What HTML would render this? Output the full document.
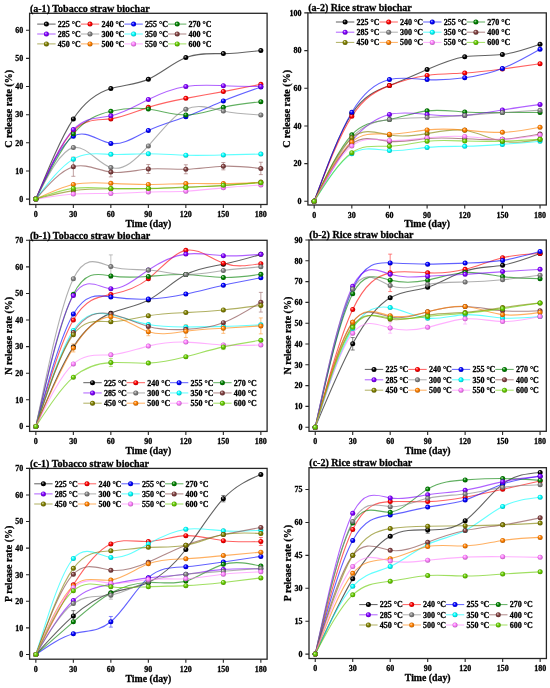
<!DOCTYPE html><html><head><meta charset="utf-8"><style>html,body{margin:0;padding:0;background:#fff;width:550px;height:688px;overflow:hidden}svg{display:block;filter:blur(0.3px)}text{font-family:"Liberation Serif",serif;font-weight:bold;fill:#000;stroke:#000;stroke-width:0.28px}</style></head><body>
<svg width="550" height="688" viewBox="0 0 550 688">
<defs>
<radialGradient id="g225" cx="0.5" cy="0.5" r="0.6" fx="0.35" fy="0.32"><stop offset="0" stop-color="#BFBFBF"/><stop offset="0.45" stop-color="#000000"/><stop offset="1" stop-color="#000000"/></radialGradient>
<radialGradient id="g240" cx="0.5" cy="0.5" r="0.6" fx="0.35" fy="0.32"><stop offset="0" stop-color="#FFBFBF"/><stop offset="0.45" stop-color="#FF0000"/><stop offset="1" stop-color="#A50000"/></radialGradient>
<radialGradient id="g255" cx="0.5" cy="0.5" r="0.6" fx="0.35" fy="0.32"><stop offset="0" stop-color="#BFBFFF"/><stop offset="0.45" stop-color="#0000FF"/><stop offset="1" stop-color="#0000A5"/></radialGradient>
<radialGradient id="g270" cx="0.5" cy="0.5" r="0.6" fx="0.35" fy="0.32"><stop offset="0" stop-color="#BFDFBF"/><stop offset="0.45" stop-color="#008000"/><stop offset="1" stop-color="#005300"/></radialGradient>
<radialGradient id="g285" cx="0.5" cy="0.5" r="0.6" fx="0.35" fy="0.32"><stop offset="0" stop-color="#DFBFFF"/><stop offset="0.45" stop-color="#8000FF"/><stop offset="1" stop-color="#5300A5"/></radialGradient>
<radialGradient id="g300" cx="0.5" cy="0.5" r="0.6" fx="0.35" fy="0.32"><stop offset="0" stop-color="#DFDFDF"/><stop offset="0.45" stop-color="#808080"/><stop offset="1" stop-color="#535353"/></radialGradient>
<radialGradient id="g350" cx="0.5" cy="0.5" r="0.6" fx="0.35" fy="0.32"><stop offset="0" stop-color="#BFFFFF"/><stop offset="0.45" stop-color="#00FFFF"/><stop offset="1" stop-color="#00A5A5"/></radialGradient>
<radialGradient id="g400" cx="0.5" cy="0.5" r="0.6" fx="0.35" fy="0.32"><stop offset="0" stop-color="#DFCFCF"/><stop offset="0.45" stop-color="#804040"/><stop offset="1" stop-color="#532929"/></radialGradient>
<radialGradient id="g450" cx="0.5" cy="0.5" r="0.6" fx="0.35" fy="0.32"><stop offset="0" stop-color="#DFDFBF"/><stop offset="0.45" stop-color="#808000"/><stop offset="1" stop-color="#535300"/></radialGradient>
<radialGradient id="g500" cx="0.5" cy="0.5" r="0.6" fx="0.35" fy="0.32"><stop offset="0" stop-color="#FFDFBF"/><stop offset="0.45" stop-color="#FF8000"/><stop offset="1" stop-color="#A55300"/></radialGradient>
<radialGradient id="g550" cx="0.5" cy="0.5" r="0.6" fx="0.35" fy="0.32"><stop offset="0" stop-color="#FFDFFF"/><stop offset="0.45" stop-color="#FF80FF"/><stop offset="1" stop-color="#A553A5"/></radialGradient>
<radialGradient id="g600" cx="0.5" cy="0.5" r="0.6" fx="0.35" fy="0.32"><stop offset="0" stop-color="#D8F2BF"/><stop offset="0.45" stop-color="#66CC00"/><stop offset="1" stop-color="#428400"/></radialGradient>
</defs>
<rect width="550" height="688" fill="#fff"/>
<g><path d="M35.85 199.1C48.35 168.53 60.85 137.97 73.35 118.9C85.85 99.84 98.35 92.27 110.85 88.51C123.35 84.74 135.85 84.78 148.35 79.22C160.85 73.67 173.35 62.53 185.85 57.56C198.35 52.58 210.85 53.76 223.35 53.62C235.85 53.47 248.35 52 260.85 50.52" fill="none" stroke="#000000" stroke-width="1.1" stroke-opacity="0.62"/><path d="M35.85 199.1C48.35 171.25 60.85 143.4 73.35 130.72C85.85 118.04 98.35 120.53 110.85 118.9C123.35 117.27 135.85 111.51 148.35 107.36C160.85 103.22 173.35 100.68 185.85 98.36C198.35 96.03 210.85 93.92 223.35 91.61C235.85 89.29 248.35 86.79 260.85 84.29" fill="none" stroke="#FF0000" stroke-width="1.1" stroke-opacity="0.62"/><path d="M35.85 199.1C48.35 171.47 60.85 143.85 73.35 136.35C85.85 128.85 98.35 141.48 110.85 143.38C123.35 145.28 135.85 136.45 148.35 130.44C160.85 124.43 173.35 121.24 185.85 116.65C198.35 112.06 210.85 106.05 223.35 100.89C235.85 95.73 248.35 91.42 260.85 87.1" fill="none" stroke="#0000FF" stroke-width="1.1" stroke-opacity="0.62"/><path d="M35.85 199.1C48.35 173.93 60.85 148.75 73.35 133.82C85.85 118.88 98.35 114.17 110.85 111.3C123.35 108.43 135.85 107.39 148.35 109.05C160.85 110.71 173.35 115.06 185.85 114.96C198.35 114.86 210.85 110.31 223.35 107.36C235.85 104.42 248.35 103.08 260.85 101.74" fill="none" stroke="#008000" stroke-width="1.1" stroke-opacity="0.62"/><path d="M35.85 199.1C48.35 170.89 60.85 142.69 73.35 129.59C85.85 116.5 98.35 118.53 110.85 115.81C123.35 113.08 135.85 105.61 148.35 99.48C160.85 93.36 173.35 88.57 185.85 86.54C198.35 84.51 210.85 85.24 223.35 85.7C235.85 86.16 248.35 86.35 260.85 86.54" fill="none" stroke="#8000FF" stroke-width="1.1" stroke-opacity="0.62"/><path d="M35.85 199.1C48.35 174.71 60.85 150.33 73.35 147.6C85.85 144.88 98.35 163.82 110.85 167.58C123.35 171.35 135.85 159.94 148.35 145.92C160.85 131.89 173.35 115.23 185.85 109.33C198.35 103.43 210.85 108.29 223.35 111.02C235.85 113.75 248.35 114.36 260.85 114.96" fill="none" stroke="#808080" stroke-width="1.1" stroke-opacity="0.62"/><path d="M35.85 199.1C48.35 182.72 60.85 166.35 73.35 159.14C85.85 151.93 98.35 153.89 110.85 154.36C123.35 154.82 135.85 153.79 148.35 153.79C160.85 153.8 173.35 154.85 185.85 155.2C198.35 155.56 210.85 155.22 223.35 154.92C235.85 154.62 248.35 154.35 260.85 154.08" fill="none" stroke="#00FFFF" stroke-width="1.1" stroke-opacity="0.62"/><path d="M35.85 199.1C48.35 184.71 60.85 170.33 73.35 166.74C85.85 163.15 98.35 170.36 110.85 172.09C123.35 173.81 135.85 170.04 148.35 168.99C160.85 167.94 173.35 169.59 185.85 169.27C198.35 168.95 210.85 166.65 223.35 166.18C235.85 165.71 248.35 167.07 260.85 168.43" fill="none" stroke="#804040" stroke-width="1.1" stroke-opacity="0.62"/><path d="M35.85 199.1C48.35 195.77 60.85 192.43 73.35 190.66C85.85 188.88 98.35 188.66 110.85 188.69C123.35 188.72 135.85 188.99 148.35 188.69C160.85 188.38 173.35 187.5 185.85 187C198.35 186.5 210.85 186.37 223.35 185.59C235.85 184.81 248.35 183.37 260.85 181.93" fill="none" stroke="#808000" stroke-width="1.1" stroke-opacity="0.62"/><path d="M35.85 199.1C48.35 193.08 60.85 187.07 73.35 184.47C85.85 181.87 98.35 182.68 110.85 183.34C123.35 184 135.85 184.52 148.35 184.47C160.85 184.42 173.35 183.8 185.85 183.62C198.35 183.44 210.85 183.69 223.35 183.62C235.85 183.55 248.35 183.17 260.85 182.78" fill="none" stroke="#FF8000" stroke-width="1.1" stroke-opacity="0.62"/><path d="M35.85 199.1C48.35 196.98 60.85 194.86 73.35 194.03C85.85 193.21 98.35 193.67 110.85 193.47C123.35 193.27 135.85 192.41 148.35 192.06C160.85 191.72 173.35 191.9 185.85 191.22C198.35 190.54 210.85 189.02 223.35 187.84C235.85 186.67 248.35 185.85 260.85 185.03" fill="none" stroke="#FF80FF" stroke-width="1.1" stroke-opacity="0.62"/><path d="M35.85 199.1C48.35 194.58 60.85 190.07 73.35 188.41C85.85 186.75 98.35 187.94 110.85 188.41C123.35 188.87 135.85 188.61 148.35 188.41C160.85 188.21 173.35 188.07 185.85 187.56C198.35 187.05 210.85 186.17 223.35 185.31C235.85 184.45 248.35 183.62 260.85 182.78" fill="none" stroke="#66CC00" stroke-width="1.1" stroke-opacity="0.62"/><path d="M73.35 157.17V176.31M71.35 157.17h4M71.35 176.31h4" stroke="#A67979" stroke-width="0.7" fill="none"/><path d="M110.85 167.3V176.87M108.85 167.3h4M108.85 176.87h4" stroke="#A67979" stroke-width="0.7" fill="none"/><path d="M148.35 164.49V173.49M146.35 164.49h4M146.35 173.49h4" stroke="#A67979" stroke-width="0.7" fill="none"/><path d="M185.85 164.77V173.77M183.85 164.77h4M183.85 173.77h4" stroke="#A67979" stroke-width="0.7" fill="none"/><path d="M223.35 162.52V169.83M221.35 162.52h4M221.35 169.83h4" stroke="#A67979" stroke-width="0.7" fill="none"/><path d="M260.85 162.24V174.62M258.85 162.24h4M258.85 174.62h4" stroke="#A67979" stroke-width="0.7" fill="none"/><circle cx="35.85" cy="199.1" r="2.5" fill="url(#g225)"/><circle cx="73.35" cy="118.9" r="2.5" fill="url(#g225)"/><circle cx="110.85" cy="88.51" r="2.5" fill="url(#g225)"/><circle cx="148.35" cy="79.22" r="2.5" fill="url(#g225)"/><circle cx="185.85" cy="57.56" r="2.5" fill="url(#g225)"/><circle cx="223.35" cy="53.62" r="2.5" fill="url(#g225)"/><circle cx="260.85" cy="50.52" r="2.5" fill="url(#g225)"/><circle cx="35.85" cy="199.1" r="2.5" fill="url(#g240)"/><circle cx="73.35" cy="130.72" r="2.5" fill="url(#g240)"/><circle cx="110.85" cy="118.9" r="2.5" fill="url(#g240)"/><circle cx="148.35" cy="107.36" r="2.5" fill="url(#g240)"/><circle cx="185.85" cy="98.36" r="2.5" fill="url(#g240)"/><circle cx="223.35" cy="91.61" r="2.5" fill="url(#g240)"/><circle cx="260.85" cy="84.29" r="2.5" fill="url(#g240)"/><circle cx="35.85" cy="199.1" r="2.5" fill="url(#g255)"/><circle cx="73.35" cy="136.35" r="2.5" fill="url(#g255)"/><circle cx="110.85" cy="143.38" r="2.5" fill="url(#g255)"/><circle cx="148.35" cy="130.44" r="2.5" fill="url(#g255)"/><circle cx="185.85" cy="116.65" r="2.5" fill="url(#g255)"/><circle cx="223.35" cy="100.89" r="2.5" fill="url(#g255)"/><circle cx="260.85" cy="87.1" r="2.5" fill="url(#g255)"/><circle cx="35.85" cy="199.1" r="2.5" fill="url(#g270)"/><circle cx="73.35" cy="133.82" r="2.5" fill="url(#g270)"/><circle cx="110.85" cy="111.3" r="2.5" fill="url(#g270)"/><circle cx="148.35" cy="109.05" r="2.5" fill="url(#g270)"/><circle cx="185.85" cy="114.96" r="2.5" fill="url(#g270)"/><circle cx="223.35" cy="107.36" r="2.5" fill="url(#g270)"/><circle cx="260.85" cy="101.74" r="2.5" fill="url(#g270)"/><circle cx="35.85" cy="199.1" r="2.5" fill="url(#g285)"/><circle cx="73.35" cy="129.59" r="2.5" fill="url(#g285)"/><circle cx="110.85" cy="115.81" r="2.5" fill="url(#g285)"/><circle cx="148.35" cy="99.48" r="2.5" fill="url(#g285)"/><circle cx="185.85" cy="86.54" r="2.5" fill="url(#g285)"/><circle cx="223.35" cy="85.7" r="2.5" fill="url(#g285)"/><circle cx="260.85" cy="86.54" r="2.5" fill="url(#g285)"/><circle cx="35.85" cy="199.1" r="2.5" fill="url(#g300)"/><circle cx="73.35" cy="147.6" r="2.5" fill="url(#g300)"/><circle cx="110.85" cy="167.58" r="2.5" fill="url(#g300)"/><circle cx="148.35" cy="145.92" r="2.5" fill="url(#g300)"/><circle cx="185.85" cy="109.33" r="2.5" fill="url(#g300)"/><circle cx="223.35" cy="111.02" r="2.5" fill="url(#g300)"/><circle cx="260.85" cy="114.96" r="2.5" fill="url(#g300)"/><circle cx="35.85" cy="199.1" r="2.5" fill="url(#g350)"/><circle cx="73.35" cy="159.14" r="2.5" fill="url(#g350)"/><circle cx="110.85" cy="154.36" r="2.5" fill="url(#g350)"/><circle cx="148.35" cy="153.79" r="2.5" fill="url(#g350)"/><circle cx="185.85" cy="155.2" r="2.5" fill="url(#g350)"/><circle cx="223.35" cy="154.92" r="2.5" fill="url(#g350)"/><circle cx="260.85" cy="154.08" r="2.5" fill="url(#g350)"/><circle cx="35.85" cy="199.1" r="2.5" fill="url(#g400)"/><circle cx="73.35" cy="166.74" r="2.5" fill="url(#g400)"/><circle cx="110.85" cy="172.09" r="2.5" fill="url(#g400)"/><circle cx="148.35" cy="168.99" r="2.5" fill="url(#g400)"/><circle cx="185.85" cy="169.27" r="2.5" fill="url(#g400)"/><circle cx="223.35" cy="166.18" r="2.5" fill="url(#g400)"/><circle cx="260.85" cy="168.43" r="2.5" fill="url(#g400)"/><circle cx="35.85" cy="199.1" r="2.5" fill="url(#g450)"/><circle cx="73.35" cy="190.66" r="2.5" fill="url(#g450)"/><circle cx="110.85" cy="188.69" r="2.5" fill="url(#g450)"/><circle cx="148.35" cy="188.69" r="2.5" fill="url(#g450)"/><circle cx="185.85" cy="187" r="2.5" fill="url(#g450)"/><circle cx="223.35" cy="185.59" r="2.5" fill="url(#g450)"/><circle cx="260.85" cy="181.93" r="2.5" fill="url(#g450)"/><circle cx="35.85" cy="199.1" r="2.5" fill="url(#g500)"/><circle cx="73.35" cy="184.47" r="2.5" fill="url(#g500)"/><circle cx="110.85" cy="183.34" r="2.5" fill="url(#g500)"/><circle cx="148.35" cy="184.47" r="2.5" fill="url(#g500)"/><circle cx="185.85" cy="183.62" r="2.5" fill="url(#g500)"/><circle cx="223.35" cy="183.62" r="2.5" fill="url(#g500)"/><circle cx="260.85" cy="182.78" r="2.5" fill="url(#g500)"/><circle cx="35.85" cy="199.1" r="2.5" fill="url(#g550)"/><circle cx="73.35" cy="194.03" r="2.5" fill="url(#g550)"/><circle cx="110.85" cy="193.47" r="2.5" fill="url(#g550)"/><circle cx="148.35" cy="192.06" r="2.5" fill="url(#g550)"/><circle cx="185.85" cy="191.22" r="2.5" fill="url(#g550)"/><circle cx="223.35" cy="187.84" r="2.5" fill="url(#g550)"/><circle cx="260.85" cy="185.03" r="2.5" fill="url(#g550)"/><circle cx="35.85" cy="199.1" r="2.5" fill="url(#g600)"/><circle cx="73.35" cy="188.41" r="2.5" fill="url(#g600)"/><circle cx="110.85" cy="188.41" r="2.5" fill="url(#g600)"/><circle cx="148.35" cy="188.41" r="2.5" fill="url(#g600)"/><circle cx="185.85" cy="187.56" r="2.5" fill="url(#g600)"/><circle cx="223.35" cy="185.31" r="2.5" fill="url(#g600)"/><circle cx="260.85" cy="182.78" r="2.5" fill="url(#g600)"/></g>
<rect x="29.6" y="13.3" width="237.5" height="191.2" fill="none" stroke="#262626" stroke-width="1.3"/>
<path d="M35.85 204.5v3.6M73.35 204.5v3.6M110.85 204.5v3.6M148.35 204.5v3.6M185.85 204.5v3.6M223.35 204.5v3.6M260.85 204.5v3.6M29.6 199.1h-3.6M29.6 170.96h-3.6M29.6 142.82h-3.6M29.6 114.68h-3.6M29.6 86.54h-3.6M29.6 58.4h-3.6M29.6 30.26h-3.6" stroke="#262626" stroke-width="1.1" fill="none"/>
<text x="35.85" y="217.4" font-size="8" text-anchor="middle">0</text>
<text x="73.35" y="217.4" font-size="8" text-anchor="middle">30</text>
<text x="110.85" y="217.4" font-size="8" text-anchor="middle">60</text>
<text x="148.35" y="217.4" font-size="8" text-anchor="middle">90</text>
<text x="185.85" y="217.4" font-size="8" text-anchor="middle">120</text>
<text x="223.35" y="217.4" font-size="8" text-anchor="middle">150</text>
<text x="260.85" y="217.4" font-size="8" text-anchor="middle">180</text>
<text x="23.2" y="201.9" font-size="8" text-anchor="end">0</text>
<text x="23.2" y="173.76" font-size="8" text-anchor="end">10</text>
<text x="23.2" y="145.62" font-size="8" text-anchor="end">20</text>
<text x="23.2" y="117.48" font-size="8" text-anchor="end">30</text>
<text x="23.2" y="89.34" font-size="8" text-anchor="end">40</text>
<text x="23.2" y="61.2" font-size="8" text-anchor="end">50</text>
<text x="23.2" y="33.06" font-size="8" text-anchor="end">60</text>
<text x="148.35" y="226.8" font-size="9.8" text-anchor="middle">Time (day)</text>
<text transform="translate(12.3 108.9) rotate(-90)" x="0" y="0" font-size="10" text-anchor="middle">C release rate (%)</text>
<text x="29.9" y="11.5" font-size="10.05">(a-1) Tobacco straw biochar</text>
<g><path d="M37.2 24.1h18.4" stroke="#000000" stroke-width="0.9" stroke-opacity="0.7"/><circle cx="46.4" cy="24.1" r="2.5" fill="url(#g225)"/><text x="57.8" y="26.9" font-size="8">225 °C</text><path d="M80.8 24.1h18.4" stroke="#FF0000" stroke-width="0.9" stroke-opacity="0.7"/><circle cx="90" cy="24.1" r="2.5" fill="url(#g240)"/><text x="101.4" y="26.9" font-size="8">240 °C</text><path d="M124.4 24.1h18.4" stroke="#0000FF" stroke-width="0.9" stroke-opacity="0.7"/><circle cx="133.6" cy="24.1" r="2.5" fill="url(#g255)"/><text x="145" y="26.9" font-size="8">255 °C</text><path d="M168 24.1h18.4" stroke="#008000" stroke-width="0.9" stroke-opacity="0.7"/><circle cx="177.2" cy="24.1" r="2.5" fill="url(#g270)"/><text x="188.6" y="26.9" font-size="8">270 °C</text><path d="M37.2 34h18.4" stroke="#8000FF" stroke-width="0.9" stroke-opacity="0.7"/><circle cx="46.4" cy="34" r="2.5" fill="url(#g285)"/><text x="57.8" y="36.8" font-size="8">285 °C</text><path d="M80.8 34h18.4" stroke="#808080" stroke-width="0.9" stroke-opacity="0.7"/><circle cx="90" cy="34" r="2.5" fill="url(#g300)"/><text x="101.4" y="36.8" font-size="8">300 °C</text><path d="M124.4 34h18.4" stroke="#00FFFF" stroke-width="0.9" stroke-opacity="0.7"/><circle cx="133.6" cy="34" r="2.5" fill="url(#g350)"/><text x="145" y="36.8" font-size="8">350 °C</text><path d="M168 34h18.4" stroke="#804040" stroke-width="0.9" stroke-opacity="0.7"/><circle cx="177.2" cy="34" r="2.5" fill="url(#g400)"/><text x="188.6" y="36.8" font-size="8">400 °C</text><path d="M37.2 43.9h18.4" stroke="#808000" stroke-width="0.9" stroke-opacity="0.7"/><circle cx="46.4" cy="43.9" r="2.5" fill="url(#g450)"/><text x="57.8" y="46.7" font-size="8">450 °C</text><path d="M80.8 43.9h18.4" stroke="#FF8000" stroke-width="0.9" stroke-opacity="0.7"/><circle cx="90" cy="43.9" r="2.5" fill="url(#g500)"/><text x="101.4" y="46.7" font-size="8">500 °C</text><path d="M124.4 43.9h18.4" stroke="#FF80FF" stroke-width="0.9" stroke-opacity="0.7"/><circle cx="133.6" cy="43.9" r="2.5" fill="url(#g550)"/><text x="145" y="46.7" font-size="8">550 °C</text><path d="M168 43.9h18.4" stroke="#66CC00" stroke-width="0.9" stroke-opacity="0.7"/><circle cx="177.2" cy="43.9" r="2.5" fill="url(#g600)"/><text x="188.6" y="46.7" font-size="8">600 °C</text></g>
<g><path d="M314.17 201.3C326.72 167.07 339.27 132.84 351.82 113.69C364.36 94.55 376.91 90.49 389.46 85.62C402.01 80.76 414.55 75.1 427.1 69.61C439.65 64.12 452.19 58.8 464.74 56.8C477.29 54.79 489.84 56.09 502.38 54.54C514.93 52.98 527.48 48.58 540.03 44.17" fill="none" stroke="#000000" stroke-width="1.1" stroke-opacity="0.62"/><path d="M314.17 201.3C326.72 168.57 339.27 135.84 351.82 116.33C364.36 96.82 376.91 90.53 389.46 85.62C402.01 80.71 414.55 77.19 427.1 75.45C439.65 73.71 452.19 73.75 464.74 73C477.29 72.25 489.84 70.71 502.38 69.04C514.93 67.37 527.48 65.57 540.03 63.77" fill="none" stroke="#FF0000" stroke-width="1.1" stroke-opacity="0.62"/><path d="M314.17 201.3C326.72 167.33 339.27 133.36 351.82 112.19C364.36 91.01 376.91 82.63 389.46 79.59C402.01 76.56 414.55 78.87 427.1 79.59C439.65 80.32 452.19 79.45 464.74 77.71C477.29 75.97 489.84 73.36 502.38 68.48C514.93 63.59 527.48 56.43 540.03 49.26" fill="none" stroke="#0000FF" stroke-width="1.1" stroke-opacity="0.62"/><path d="M314.17 201.3C326.72 174.65 339.27 148 351.82 134.79C364.36 121.59 376.91 121.84 389.46 119.53C402.01 117.23 414.55 112.38 427.1 110.87C439.65 109.35 452.19 111.18 464.74 112C477.29 112.82 489.84 112.64 502.38 112.56C514.93 112.49 527.48 112.53 540.03 112.56" fill="none" stroke="#008000" stroke-width="1.1" stroke-opacity="0.62"/><path d="M314.17 201.3C326.72 178.81 339.27 156.32 351.82 141.01C364.36 125.7 376.91 117.57 389.46 114.45C402.01 111.32 414.55 113.2 427.1 114.45C439.65 115.7 452.19 116.31 464.74 115.39C477.29 114.47 489.84 112 502.38 109.93C514.93 107.85 527.48 106.16 540.03 104.46" fill="none" stroke="#8000FF" stroke-width="1.1" stroke-opacity="0.62"/><path d="M314.17 201.3C326.72 176.38 339.27 151.47 351.82 137.62C364.36 123.78 376.91 121 389.46 119.53C402.01 118.07 414.55 117.91 427.1 117.46C439.65 117.02 452.19 116.28 464.74 115.39C477.29 114.5 489.84 113.44 502.38 112.56C514.93 111.69 527.48 111 540.03 110.3" fill="none" stroke="#808080" stroke-width="1.1" stroke-opacity="0.62"/><path d="M314.17 201.3C326.72 181.41 339.27 161.51 351.82 153.63C364.36 145.76 376.91 149.9 389.46 150.62C402.01 151.34 414.55 148.63 427.1 147.42C439.65 146.21 452.19 146.51 464.74 146.29C477.29 146.07 489.84 145.34 502.38 144.4C514.93 143.47 527.48 142.34 540.03 141.2" fill="none" stroke="#00FFFF" stroke-width="1.1" stroke-opacity="0.62"/><path d="M314.17 201.3C326.72 177.21 339.27 153.11 351.82 143.84C364.36 134.56 376.91 140.1 389.46 141.39C402.01 142.68 414.55 139.71 427.1 138.56C439.65 137.41 452.19 138.08 464.74 138.75C477.29 139.42 489.84 140.1 502.38 139.32C514.93 138.53 527.48 136.29 540.03 134.04" fill="none" stroke="#804040" stroke-width="1.1" stroke-opacity="0.62"/><path d="M314.17 201.3C326.72 174.8 339.27 148.29 351.82 137.81C364.36 127.32 376.91 132.86 389.46 134.98C402.01 137.11 414.55 135.84 427.1 133.66C439.65 131.49 452.19 128.43 464.74 130.27C477.29 132.12 489.84 138.87 502.38 141.2C514.93 143.53 527.48 141.42 540.03 139.32" fill="none" stroke="#808000" stroke-width="1.1" stroke-opacity="0.62"/><path d="M314.17 201.3C326.72 176.97 339.27 152.63 351.82 141.95C364.36 131.28 376.91 134.25 389.46 134.23C402.01 134.21 414.55 131.18 427.1 129.9C439.65 128.61 452.19 129.06 464.74 130.08C477.29 131.11 489.84 132.72 502.38 132.35C514.93 131.97 527.48 129.62 540.03 127.26" fill="none" stroke="#FF8000" stroke-width="1.1" stroke-opacity="0.62"/><path d="M314.17 201.3C326.72 178.45 339.27 155.59 351.82 145.91C364.36 136.23 376.91 139.71 389.46 140.45C402.01 141.18 414.55 139.16 427.1 137.81C439.65 136.46 452.19 135.77 464.74 136.49C477.29 137.21 489.84 139.33 502.38 139.32C514.93 139.3 527.48 137.14 540.03 134.98" fill="none" stroke="#FF80FF" stroke-width="1.1" stroke-opacity="0.62"/><path d="M314.17 201.3C326.72 181.33 339.27 161.36 351.82 152.69C364.36 144.03 376.91 146.66 389.46 146.29C402.01 145.91 414.55 142.53 427.1 141.2C439.65 139.87 452.19 140.6 464.74 141.01C477.29 141.43 489.84 141.53 502.38 141.2C514.93 140.87 527.48 140.09 540.03 139.32" fill="none" stroke="#66CC00" stroke-width="1.1" stroke-opacity="0.62"/><circle cx="314.17" cy="201.3" r="2.5" fill="url(#g225)"/><circle cx="351.82" cy="113.69" r="2.5" fill="url(#g225)"/><circle cx="389.46" cy="85.62" r="2.5" fill="url(#g225)"/><circle cx="427.1" cy="69.61" r="2.5" fill="url(#g225)"/><circle cx="464.74" cy="56.8" r="2.5" fill="url(#g225)"/><circle cx="502.38" cy="54.54" r="2.5" fill="url(#g225)"/><circle cx="540.03" cy="44.17" r="2.5" fill="url(#g225)"/><circle cx="314.17" cy="201.3" r="2.5" fill="url(#g240)"/><circle cx="351.82" cy="116.33" r="2.5" fill="url(#g240)"/><circle cx="389.46" cy="85.62" r="2.5" fill="url(#g240)"/><circle cx="427.1" cy="75.45" r="2.5" fill="url(#g240)"/><circle cx="464.74" cy="73" r="2.5" fill="url(#g240)"/><circle cx="502.38" cy="69.04" r="2.5" fill="url(#g240)"/><circle cx="540.03" cy="63.77" r="2.5" fill="url(#g240)"/><circle cx="314.17" cy="201.3" r="2.5" fill="url(#g255)"/><circle cx="351.82" cy="112.19" r="2.5" fill="url(#g255)"/><circle cx="389.46" cy="79.59" r="2.5" fill="url(#g255)"/><circle cx="427.1" cy="79.59" r="2.5" fill="url(#g255)"/><circle cx="464.74" cy="77.71" r="2.5" fill="url(#g255)"/><circle cx="502.38" cy="68.48" r="2.5" fill="url(#g255)"/><circle cx="540.03" cy="49.26" r="2.5" fill="url(#g255)"/><circle cx="314.17" cy="201.3" r="2.5" fill="url(#g270)"/><circle cx="351.82" cy="134.79" r="2.5" fill="url(#g270)"/><circle cx="389.46" cy="119.53" r="2.5" fill="url(#g270)"/><circle cx="427.1" cy="110.87" r="2.5" fill="url(#g270)"/><circle cx="464.74" cy="112" r="2.5" fill="url(#g270)"/><circle cx="502.38" cy="112.56" r="2.5" fill="url(#g270)"/><circle cx="540.03" cy="112.56" r="2.5" fill="url(#g270)"/><circle cx="314.17" cy="201.3" r="2.5" fill="url(#g285)"/><circle cx="351.82" cy="141.01" r="2.5" fill="url(#g285)"/><circle cx="389.46" cy="114.45" r="2.5" fill="url(#g285)"/><circle cx="427.1" cy="114.45" r="2.5" fill="url(#g285)"/><circle cx="464.74" cy="115.39" r="2.5" fill="url(#g285)"/><circle cx="502.38" cy="109.93" r="2.5" fill="url(#g285)"/><circle cx="540.03" cy="104.46" r="2.5" fill="url(#g285)"/><circle cx="314.17" cy="201.3" r="2.5" fill="url(#g300)"/><circle cx="351.82" cy="137.62" r="2.5" fill="url(#g300)"/><circle cx="389.46" cy="119.53" r="2.5" fill="url(#g300)"/><circle cx="427.1" cy="117.46" r="2.5" fill="url(#g300)"/><circle cx="464.74" cy="115.39" r="2.5" fill="url(#g300)"/><circle cx="502.38" cy="112.56" r="2.5" fill="url(#g300)"/><circle cx="540.03" cy="110.3" r="2.5" fill="url(#g300)"/><circle cx="314.17" cy="201.3" r="2.5" fill="url(#g350)"/><circle cx="351.82" cy="153.63" r="2.5" fill="url(#g350)"/><circle cx="389.46" cy="150.62" r="2.5" fill="url(#g350)"/><circle cx="427.1" cy="147.42" r="2.5" fill="url(#g350)"/><circle cx="464.74" cy="146.29" r="2.5" fill="url(#g350)"/><circle cx="502.38" cy="144.4" r="2.5" fill="url(#g350)"/><circle cx="540.03" cy="141.2" r="2.5" fill="url(#g350)"/><circle cx="314.17" cy="201.3" r="2.5" fill="url(#g400)"/><circle cx="351.82" cy="143.84" r="2.5" fill="url(#g400)"/><circle cx="389.46" cy="141.39" r="2.5" fill="url(#g400)"/><circle cx="427.1" cy="138.56" r="2.5" fill="url(#g400)"/><circle cx="464.74" cy="138.75" r="2.5" fill="url(#g400)"/><circle cx="502.38" cy="139.32" r="2.5" fill="url(#g400)"/><circle cx="540.03" cy="134.04" r="2.5" fill="url(#g400)"/><circle cx="314.17" cy="201.3" r="2.5" fill="url(#g450)"/><circle cx="351.82" cy="137.81" r="2.5" fill="url(#g450)"/><circle cx="389.46" cy="134.98" r="2.5" fill="url(#g450)"/><circle cx="427.1" cy="133.66" r="2.5" fill="url(#g450)"/><circle cx="464.74" cy="130.27" r="2.5" fill="url(#g450)"/><circle cx="502.38" cy="141.2" r="2.5" fill="url(#g450)"/><circle cx="540.03" cy="139.32" r="2.5" fill="url(#g450)"/><circle cx="314.17" cy="201.3" r="2.5" fill="url(#g500)"/><circle cx="351.82" cy="141.95" r="2.5" fill="url(#g500)"/><circle cx="389.46" cy="134.23" r="2.5" fill="url(#g500)"/><circle cx="427.1" cy="129.9" r="2.5" fill="url(#g500)"/><circle cx="464.74" cy="130.08" r="2.5" fill="url(#g500)"/><circle cx="502.38" cy="132.35" r="2.5" fill="url(#g500)"/><circle cx="540.03" cy="127.26" r="2.5" fill="url(#g500)"/><circle cx="314.17" cy="201.3" r="2.5" fill="url(#g550)"/><circle cx="351.82" cy="145.91" r="2.5" fill="url(#g550)"/><circle cx="389.46" cy="140.45" r="2.5" fill="url(#g550)"/><circle cx="427.1" cy="137.81" r="2.5" fill="url(#g550)"/><circle cx="464.74" cy="136.49" r="2.5" fill="url(#g550)"/><circle cx="502.38" cy="139.32" r="2.5" fill="url(#g550)"/><circle cx="540.03" cy="134.98" r="2.5" fill="url(#g550)"/><circle cx="314.17" cy="201.3" r="2.5" fill="url(#g600)"/><circle cx="351.82" cy="152.69" r="2.5" fill="url(#g600)"/><circle cx="389.46" cy="146.29" r="2.5" fill="url(#g600)"/><circle cx="427.1" cy="141.2" r="2.5" fill="url(#g600)"/><circle cx="464.74" cy="141.01" r="2.5" fill="url(#g600)"/><circle cx="502.38" cy="141.2" r="2.5" fill="url(#g600)"/><circle cx="540.03" cy="139.32" r="2.5" fill="url(#g600)"/></g>
<rect x="307.9" y="12.9" width="238.4" height="192.1" fill="none" stroke="#262626" stroke-width="1.3"/>
<path d="M314.17 205v3.6M351.82 205v3.6M389.46 205v3.6M427.1 205v3.6M464.74 205v3.6M502.38 205v3.6M540.03 205v3.6M307.9 201.3h-3.6M307.9 163.62h-3.6M307.9 125.94h-3.6M307.9 88.26h-3.6M307.9 50.58h-3.6M307.9 12.9h-3.6" stroke="#262626" stroke-width="1.1" fill="none"/>
<text x="314.17" y="217.9" font-size="8" text-anchor="middle">0</text>
<text x="351.82" y="217.9" font-size="8" text-anchor="middle">30</text>
<text x="389.46" y="217.9" font-size="8" text-anchor="middle">60</text>
<text x="427.1" y="217.9" font-size="8" text-anchor="middle">90</text>
<text x="464.74" y="217.9" font-size="8" text-anchor="middle">120</text>
<text x="502.38" y="217.9" font-size="8" text-anchor="middle">150</text>
<text x="540.03" y="217.9" font-size="8" text-anchor="middle">180</text>
<text x="301.5" y="204.1" font-size="8" text-anchor="end">0</text>
<text x="301.5" y="166.42" font-size="8" text-anchor="end">20</text>
<text x="301.5" y="128.74" font-size="8" text-anchor="end">40</text>
<text x="301.5" y="91.06" font-size="8" text-anchor="end">60</text>
<text x="301.5" y="53.38" font-size="8" text-anchor="end">80</text>
<text x="301.5" y="15.7" font-size="8" text-anchor="end">100</text>
<text x="427.1" y="227.3" font-size="9.8" text-anchor="middle">Time (day)</text>
<text transform="translate(289.8 108.95) rotate(-90)" x="0" y="0" font-size="10" text-anchor="middle">C release rate (%)</text>
<text x="308.2" y="11.1" font-size="10.05">(a-2) Rice straw biochar</text>
<g><path d="M335.9 22h18.4" stroke="#000000" stroke-width="0.9" stroke-opacity="0.7"/><circle cx="345.1" cy="22" r="2.5" fill="url(#g225)"/><text x="356.5" y="24.8" font-size="8">225 °C</text><path d="M379.5 22h18.4" stroke="#FF0000" stroke-width="0.9" stroke-opacity="0.7"/><circle cx="388.7" cy="22" r="2.5" fill="url(#g240)"/><text x="400.1" y="24.8" font-size="8">240 °C</text><path d="M423.1 22h18.4" stroke="#0000FF" stroke-width="0.9" stroke-opacity="0.7"/><circle cx="432.3" cy="22" r="2.5" fill="url(#g255)"/><text x="443.7" y="24.8" font-size="8">255 °C</text><path d="M466.7 22h18.4" stroke="#008000" stroke-width="0.9" stroke-opacity="0.7"/><circle cx="475.9" cy="22" r="2.5" fill="url(#g270)"/><text x="487.3" y="24.8" font-size="8">270 °C</text><path d="M335.9 32.2h18.4" stroke="#8000FF" stroke-width="0.9" stroke-opacity="0.7"/><circle cx="345.1" cy="32.2" r="2.5" fill="url(#g285)"/><text x="356.5" y="35" font-size="8">285 °C</text><path d="M379.5 32.2h18.4" stroke="#808080" stroke-width="0.9" stroke-opacity="0.7"/><circle cx="388.7" cy="32.2" r="2.5" fill="url(#g300)"/><text x="400.1" y="35" font-size="8">300 °C</text><path d="M423.1 32.2h18.4" stroke="#00FFFF" stroke-width="0.9" stroke-opacity="0.7"/><circle cx="432.3" cy="32.2" r="2.5" fill="url(#g350)"/><text x="443.7" y="35" font-size="8">350 °C</text><path d="M466.7 32.2h18.4" stroke="#804040" stroke-width="0.9" stroke-opacity="0.7"/><circle cx="475.9" cy="32.2" r="2.5" fill="url(#g400)"/><text x="487.3" y="35" font-size="8">400 °C</text><path d="M335.9 42.4h18.4" stroke="#808000" stroke-width="0.9" stroke-opacity="0.7"/><circle cx="345.1" cy="42.4" r="2.5" fill="url(#g450)"/><text x="356.5" y="45.2" font-size="8">450 °C</text><path d="M379.5 42.4h18.4" stroke="#FF8000" stroke-width="0.9" stroke-opacity="0.7"/><circle cx="388.7" cy="42.4" r="2.5" fill="url(#g500)"/><text x="400.1" y="45.2" font-size="8">500 °C</text><path d="M423.1 42.4h18.4" stroke="#FF80FF" stroke-width="0.9" stroke-opacity="0.7"/><circle cx="432.3" cy="42.4" r="2.5" fill="url(#g550)"/><text x="443.7" y="45.2" font-size="8">550 °C</text><path d="M466.7 42.4h18.4" stroke="#66CC00" stroke-width="0.9" stroke-opacity="0.7"/><circle cx="475.9" cy="42.4" r="2.5" fill="url(#g600)"/><text x="487.3" y="45.2" font-size="8">600 °C</text></g>
<g><path d="M35.85 426.4C48.35 396.42 60.85 366.43 73.35 346.9C85.85 327.36 98.35 318.27 110.85 313.13C123.35 307.98 135.85 306.78 148.35 300.1C160.85 293.42 173.35 281.26 185.85 274.57C198.35 267.88 210.85 266.66 223.35 264.2C235.85 261.74 248.35 258.05 260.85 254.36" fill="none" stroke="#000000" stroke-width="1.1" stroke-opacity="0.62"/><path d="M35.85 426.4C48.35 384.12 60.85 341.84 73.35 320.04C85.85 298.24 98.35 296.92 110.85 294.51C123.35 292.11 135.85 288.61 148.35 278.83C160.85 269.04 173.35 252.97 185.85 250.37C198.35 247.78 210.85 258.67 223.35 263.14C235.85 267.6 248.35 265.63 260.85 263.67" fill="none" stroke="#FF0000" stroke-width="1.1" stroke-opacity="0.62"/><path d="M35.85 426.4C48.35 380.88 60.85 335.36 73.35 313.92C85.85 292.49 98.35 295.14 110.85 296.91C123.35 298.67 135.85 299.55 148.35 299.03C160.85 298.52 173.35 296.6 185.85 293.98C198.35 291.36 210.85 288.03 223.35 285.21C235.85 282.39 248.35 280.07 260.85 277.76" fill="none" stroke="#0000FF" stroke-width="1.1" stroke-opacity="0.62"/><path d="M35.85 426.4C48.35 372.66 60.85 318.93 73.35 294.25C85.85 269.57 98.35 273.95 110.85 275.9C123.35 277.85 135.85 277.36 148.35 276.43C160.85 275.5 173.35 274.14 185.85 274.57C198.35 275 210.85 277.24 223.35 277.5C235.85 277.75 248.35 276.03 260.85 274.31" fill="none" stroke="#008000" stroke-width="1.1" stroke-opacity="0.62"/><path d="M35.85 426.4C48.35 371.46 60.85 316.52 73.35 295.58C85.85 274.64 98.35 287.69 110.85 288.66C123.35 289.64 135.85 278.52 148.35 270.05C160.85 261.58 173.35 255.75 185.85 254.1C198.35 252.44 210.85 254.95 223.35 255.69C235.85 256.43 248.35 255.4 260.85 254.36" fill="none" stroke="#8000FF" stroke-width="1.1" stroke-opacity="0.62"/><path d="M35.85 426.4C48.35 365.47 60.85 304.55 73.35 278.83C85.85 253.1 98.35 262.58 110.85 266.59C123.35 270.61 135.85 269.15 148.35 270.05C160.85 270.95 173.35 274.22 185.85 274.57C198.35 274.92 210.85 272.35 223.35 270.58C235.85 268.81 248.35 267.84 260.85 266.86" fill="none" stroke="#808080" stroke-width="1.1" stroke-opacity="0.62"/><path d="M35.85 426.4C48.35 387.89 60.85 349.37 73.35 330.41C85.85 311.45 98.35 312.04 110.85 314.72C123.35 317.4 135.85 322.16 148.35 324.56C160.85 326.96 173.35 327 185.85 326.95C198.35 326.91 210.85 326.79 223.35 326.42C235.85 326.05 248.35 325.44 260.85 324.83" fill="none" stroke="#00FFFF" stroke-width="1.1" stroke-opacity="0.62"/><path d="M35.85 426.4C48.35 389.19 60.85 351.97 73.35 332.54C85.85 313.1 98.35 311.44 110.85 313.92C123.35 316.41 135.85 323.03 148.35 326.42C160.85 329.81 173.35 329.96 185.85 329.35C198.35 328.73 210.85 327.35 223.35 322.7C235.85 318.05 248.35 310.14 260.85 302.22" fill="none" stroke="#804040" stroke-width="1.1" stroke-opacity="0.62"/><path d="M35.85 426.4C48.35 388.95 60.85 351.5 73.35 334.66C85.85 317.83 98.35 321.62 110.85 321.64C123.35 321.65 135.85 317.89 148.35 315.79C160.85 313.68 173.35 313.22 185.85 312.59C198.35 311.97 210.85 311.16 223.35 309.94C235.85 308.71 248.35 307.06 260.85 305.42" fill="none" stroke="#808000" stroke-width="1.1" stroke-opacity="0.62"/><path d="M35.85 426.4C48.35 397.22 60.85 368.04 73.35 347.96C85.85 327.88 98.35 316.89 110.85 316.85C123.35 316.81 135.85 327.72 148.35 331.74C160.85 335.76 173.35 332.9 185.85 331.21C198.35 329.51 210.85 328.98 223.35 328.28C235.85 327.59 248.35 326.74 260.85 325.89" fill="none" stroke="#FF8000" stroke-width="1.1" stroke-opacity="0.62"/><path d="M35.85 426.4C48.35 400.79 60.85 375.17 73.35 363.91C85.85 352.65 98.35 355.75 110.85 354.87C123.35 354 135.85 349.15 148.35 346.1C160.85 343.05 173.35 341.8 185.85 342.11C198.35 342.42 210.85 344.29 223.35 345.03C235.85 345.78 248.35 345.41 260.85 345.03" fill="none" stroke="#FF80FF" stroke-width="1.1" stroke-opacity="0.62"/><path d="M35.85 426.4C48.35 407.32 60.85 388.23 73.35 377.21C85.85 366.19 98.35 363.23 110.85 362.58C123.35 361.94 135.85 363.61 148.35 363.12C160.85 362.62 173.35 359.95 185.85 356.73C198.35 353.51 210.85 349.74 223.35 346.9C235.85 344.06 248.35 342.15 260.85 340.25" fill="none" stroke="#66CC00" stroke-width="1.1" stroke-opacity="0.62"/><path d="M110.85 254.89V278.29M108.85 254.89h4M108.85 278.29h4" stroke="#A6A6A6" stroke-width="0.7" fill="none"/><path d="M260.85 292.39V312.06M258.85 292.39h4M258.85 312.06h4" stroke="#A67979" stroke-width="0.7" fill="none"/><path d="M73.35 343.97V351.95M71.35 343.97h4M71.35 351.95h4" stroke="#FFA64C" stroke-width="0.7" fill="none"/><path d="M148.35 327.75V335.73M146.35 327.75h4M146.35 335.73h4" stroke="#FFA64C" stroke-width="0.7" fill="none"/><path d="M185.85 324.83V337.59M183.85 324.83h4M183.85 337.59h4" stroke="#FFA64C" stroke-width="0.7" fill="none"/><path d="M223.35 323.23V333.33M221.35 323.23h4M221.35 333.33h4" stroke="#FFA64C" stroke-width="0.7" fill="none"/><path d="M260.85 317.91V333.87M258.85 317.91h4M258.85 333.87h4" stroke="#FFA64C" stroke-width="0.7" fill="none"/><path d="M110.85 358.6V366.57M108.85 358.6h4M108.85 366.57h4" stroke="#93DB4C" stroke-width="0.7" fill="none"/><path d="M223.35 344.24V349.55M221.35 344.24h4M221.35 349.55h4" stroke="#93DB4C" stroke-width="0.7" fill="none"/><circle cx="35.85" cy="426.4" r="2.5" fill="url(#g225)"/><circle cx="73.35" cy="346.9" r="2.5" fill="url(#g225)"/><circle cx="110.85" cy="313.13" r="2.5" fill="url(#g225)"/><circle cx="148.35" cy="300.1" r="2.5" fill="url(#g225)"/><circle cx="185.85" cy="274.57" r="2.5" fill="url(#g225)"/><circle cx="223.35" cy="264.2" r="2.5" fill="url(#g225)"/><circle cx="260.85" cy="254.36" r="2.5" fill="url(#g225)"/><circle cx="35.85" cy="426.4" r="2.5" fill="url(#g240)"/><circle cx="73.35" cy="320.04" r="2.5" fill="url(#g240)"/><circle cx="110.85" cy="294.51" r="2.5" fill="url(#g240)"/><circle cx="148.35" cy="278.83" r="2.5" fill="url(#g240)"/><circle cx="185.85" cy="250.37" r="2.5" fill="url(#g240)"/><circle cx="223.35" cy="263.14" r="2.5" fill="url(#g240)"/><circle cx="260.85" cy="263.67" r="2.5" fill="url(#g240)"/><circle cx="35.85" cy="426.4" r="2.5" fill="url(#g255)"/><circle cx="73.35" cy="313.92" r="2.5" fill="url(#g255)"/><circle cx="110.85" cy="296.91" r="2.5" fill="url(#g255)"/><circle cx="148.35" cy="299.03" r="2.5" fill="url(#g255)"/><circle cx="185.85" cy="293.98" r="2.5" fill="url(#g255)"/><circle cx="223.35" cy="285.21" r="2.5" fill="url(#g255)"/><circle cx="260.85" cy="277.76" r="2.5" fill="url(#g255)"/><circle cx="35.85" cy="426.4" r="2.5" fill="url(#g270)"/><circle cx="73.35" cy="294.25" r="2.5" fill="url(#g270)"/><circle cx="110.85" cy="275.9" r="2.5" fill="url(#g270)"/><circle cx="148.35" cy="276.43" r="2.5" fill="url(#g270)"/><circle cx="185.85" cy="274.57" r="2.5" fill="url(#g270)"/><circle cx="223.35" cy="277.5" r="2.5" fill="url(#g270)"/><circle cx="260.85" cy="274.31" r="2.5" fill="url(#g270)"/><circle cx="35.85" cy="426.4" r="2.5" fill="url(#g285)"/><circle cx="73.35" cy="295.58" r="2.5" fill="url(#g285)"/><circle cx="110.85" cy="288.66" r="2.5" fill="url(#g285)"/><circle cx="148.35" cy="270.05" r="2.5" fill="url(#g285)"/><circle cx="185.85" cy="254.1" r="2.5" fill="url(#g285)"/><circle cx="223.35" cy="255.69" r="2.5" fill="url(#g285)"/><circle cx="260.85" cy="254.36" r="2.5" fill="url(#g285)"/><circle cx="35.85" cy="426.4" r="2.5" fill="url(#g300)"/><circle cx="73.35" cy="278.83" r="2.5" fill="url(#g300)"/><circle cx="110.85" cy="266.59" r="2.5" fill="url(#g300)"/><circle cx="148.35" cy="270.05" r="2.5" fill="url(#g300)"/><circle cx="185.85" cy="274.57" r="2.5" fill="url(#g300)"/><circle cx="223.35" cy="270.58" r="2.5" fill="url(#g300)"/><circle cx="260.85" cy="266.86" r="2.5" fill="url(#g300)"/><circle cx="35.85" cy="426.4" r="2.5" fill="url(#g350)"/><circle cx="73.35" cy="330.41" r="2.5" fill="url(#g350)"/><circle cx="110.85" cy="314.72" r="2.5" fill="url(#g350)"/><circle cx="148.35" cy="324.56" r="2.5" fill="url(#g350)"/><circle cx="185.85" cy="326.95" r="2.5" fill="url(#g350)"/><circle cx="223.35" cy="326.42" r="2.5" fill="url(#g350)"/><circle cx="260.85" cy="324.83" r="2.5" fill="url(#g350)"/><circle cx="35.85" cy="426.4" r="2.5" fill="url(#g400)"/><circle cx="73.35" cy="332.54" r="2.5" fill="url(#g400)"/><circle cx="110.85" cy="313.92" r="2.5" fill="url(#g400)"/><circle cx="148.35" cy="326.42" r="2.5" fill="url(#g400)"/><circle cx="185.85" cy="329.35" r="2.5" fill="url(#g400)"/><circle cx="223.35" cy="322.7" r="2.5" fill="url(#g400)"/><circle cx="260.85" cy="302.22" r="2.5" fill="url(#g400)"/><circle cx="35.85" cy="426.4" r="2.5" fill="url(#g450)"/><circle cx="73.35" cy="334.66" r="2.5" fill="url(#g450)"/><circle cx="110.85" cy="321.64" r="2.5" fill="url(#g450)"/><circle cx="148.35" cy="315.79" r="2.5" fill="url(#g450)"/><circle cx="185.85" cy="312.59" r="2.5" fill="url(#g450)"/><circle cx="223.35" cy="309.94" r="2.5" fill="url(#g450)"/><circle cx="260.85" cy="305.42" r="2.5" fill="url(#g450)"/><circle cx="35.85" cy="426.4" r="2.5" fill="url(#g500)"/><circle cx="73.35" cy="347.96" r="2.5" fill="url(#g500)"/><circle cx="110.85" cy="316.85" r="2.5" fill="url(#g500)"/><circle cx="148.35" cy="331.74" r="2.5" fill="url(#g500)"/><circle cx="185.85" cy="331.21" r="2.5" fill="url(#g500)"/><circle cx="223.35" cy="328.28" r="2.5" fill="url(#g500)"/><circle cx="260.85" cy="325.89" r="2.5" fill="url(#g500)"/><circle cx="35.85" cy="426.4" r="2.5" fill="url(#g550)"/><circle cx="73.35" cy="363.91" r="2.5" fill="url(#g550)"/><circle cx="110.85" cy="354.87" r="2.5" fill="url(#g550)"/><circle cx="148.35" cy="346.1" r="2.5" fill="url(#g550)"/><circle cx="185.85" cy="342.11" r="2.5" fill="url(#g550)"/><circle cx="223.35" cy="345.03" r="2.5" fill="url(#g550)"/><circle cx="260.85" cy="345.03" r="2.5" fill="url(#g550)"/><circle cx="35.85" cy="426.4" r="2.5" fill="url(#g600)"/><circle cx="73.35" cy="377.21" r="2.5" fill="url(#g600)"/><circle cx="110.85" cy="362.58" r="2.5" fill="url(#g600)"/><circle cx="148.35" cy="363.12" r="2.5" fill="url(#g600)"/><circle cx="185.85" cy="356.73" r="2.5" fill="url(#g600)"/><circle cx="223.35" cy="346.9" r="2.5" fill="url(#g600)"/><circle cx="260.85" cy="340.25" r="2.5" fill="url(#g600)"/></g>
<rect x="29.6" y="240.3" width="237.5" height="191.1" fill="none" stroke="#262626" stroke-width="1.3"/>
<path d="M35.85 431.4v3.6M73.35 431.4v3.6M110.85 431.4v3.6M148.35 431.4v3.6M185.85 431.4v3.6M223.35 431.4v3.6M260.85 431.4v3.6M29.6 426.4h-3.6M29.6 399.81h-3.6M29.6 373.22h-3.6M29.6 346.63h-3.6M29.6 320.04h-3.6M29.6 293.45h-3.6M29.6 266.86h-3.6M29.6 240.27h-3.6" stroke="#262626" stroke-width="1.1" fill="none"/>
<text x="35.85" y="444.3" font-size="8" text-anchor="middle">0</text>
<text x="73.35" y="444.3" font-size="8" text-anchor="middle">30</text>
<text x="110.85" y="444.3" font-size="8" text-anchor="middle">60</text>
<text x="148.35" y="444.3" font-size="8" text-anchor="middle">90</text>
<text x="185.85" y="444.3" font-size="8" text-anchor="middle">120</text>
<text x="223.35" y="444.3" font-size="8" text-anchor="middle">150</text>
<text x="260.85" y="444.3" font-size="8" text-anchor="middle">180</text>
<text x="23.2" y="429.2" font-size="8" text-anchor="end">0</text>
<text x="23.2" y="402.61" font-size="8" text-anchor="end">10</text>
<text x="23.2" y="376.02" font-size="8" text-anchor="end">20</text>
<text x="23.2" y="349.43" font-size="8" text-anchor="end">30</text>
<text x="23.2" y="322.84" font-size="8" text-anchor="end">40</text>
<text x="23.2" y="296.25" font-size="8" text-anchor="end">50</text>
<text x="23.2" y="269.66" font-size="8" text-anchor="end">60</text>
<text x="23.2" y="243.07" font-size="8" text-anchor="end">70</text>
<text x="148.35" y="453.7" font-size="9.8" text-anchor="middle">Time (day)</text>
<text transform="translate(12.3 335.85) rotate(-90)" x="0" y="0" font-size="10" text-anchor="middle">N release rate (%)</text>
<text x="29.9" y="238.5" font-size="10.05">(b-1) Tobacco straw biochar</text>
<g><path d="M83.3 382.7h18.4" stroke="#000000" stroke-width="0.9" stroke-opacity="0.7"/><circle cx="92.5" cy="382.7" r="2.5" fill="url(#g225)"/><text x="103.9" y="385.5" font-size="8">225 °C</text><path d="M126.6 382.7h18.4" stroke="#FF0000" stroke-width="0.9" stroke-opacity="0.7"/><circle cx="135.8" cy="382.7" r="2.5" fill="url(#g240)"/><text x="147.2" y="385.5" font-size="8">240 °C</text><path d="M169.9 382.7h18.4" stroke="#0000FF" stroke-width="0.9" stroke-opacity="0.7"/><circle cx="179.1" cy="382.7" r="2.5" fill="url(#g255)"/><text x="190.5" y="385.5" font-size="8">255 °C</text><path d="M213.2 382.7h18.4" stroke="#008000" stroke-width="0.9" stroke-opacity="0.7"/><circle cx="222.4" cy="382.7" r="2.5" fill="url(#g270)"/><text x="233.8" y="385.5" font-size="8">270 °C</text><path d="M83.3 392.95h18.4" stroke="#8000FF" stroke-width="0.9" stroke-opacity="0.7"/><circle cx="92.5" cy="392.95" r="2.5" fill="url(#g285)"/><text x="103.9" y="395.75" font-size="8">285 °C</text><path d="M126.6 392.95h18.4" stroke="#808080" stroke-width="0.9" stroke-opacity="0.7"/><circle cx="135.8" cy="392.95" r="2.5" fill="url(#g300)"/><text x="147.2" y="395.75" font-size="8">300 °C</text><path d="M169.9 392.95h18.4" stroke="#00FFFF" stroke-width="0.9" stroke-opacity="0.7"/><circle cx="179.1" cy="392.95" r="2.5" fill="url(#g350)"/><text x="190.5" y="395.75" font-size="8">350 °C</text><path d="M213.2 392.95h18.4" stroke="#804040" stroke-width="0.9" stroke-opacity="0.7"/><circle cx="222.4" cy="392.95" r="2.5" fill="url(#g400)"/><text x="233.8" y="395.75" font-size="8">400 °C</text><path d="M83.3 403.2h18.4" stroke="#808000" stroke-width="0.9" stroke-opacity="0.7"/><circle cx="92.5" cy="403.2" r="2.5" fill="url(#g450)"/><text x="103.9" y="406" font-size="8">450 °C</text><path d="M126.6 403.2h18.4" stroke="#FF8000" stroke-width="0.9" stroke-opacity="0.7"/><circle cx="135.8" cy="403.2" r="2.5" fill="url(#g500)"/><text x="147.2" y="406" font-size="8">500 °C</text><path d="M169.9 403.2h18.4" stroke="#FF80FF" stroke-width="0.9" stroke-opacity="0.7"/><circle cx="179.1" cy="403.2" r="2.5" fill="url(#g550)"/><text x="190.5" y="406" font-size="8">550 °C</text><path d="M213.2 403.2h18.4" stroke="#66CC00" stroke-width="0.9" stroke-opacity="0.7"/><circle cx="222.4" cy="403.2" r="2.5" fill="url(#g600)"/><text x="233.8" y="406" font-size="8">600 °C</text></g>
<g><path d="M315.24 427.2C327.73 396.96 340.22 366.71 352.71 343.79C365.2 320.87 377.69 305.28 390.18 297.82C402.67 290.37 415.16 291.06 427.65 287.22C440.14 283.37 452.63 275 465.12 270.99C477.61 266.99 490.1 267.35 502.59 265.17C515.08 262.98 527.57 258.25 540.06 253.52" fill="none" stroke="#000000" stroke-width="1.1" stroke-opacity="0.62"/><path d="M315.24 427.2C327.73 381.59 340.22 335.99 352.71 309.47C365.2 282.96 377.69 275.53 390.18 272.86C402.67 270.2 415.16 272.28 427.65 272.86C440.14 273.44 452.63 272.52 465.12 269.33C477.61 266.14 490.1 260.69 502.59 257.68C515.08 254.67 527.57 254.09 540.06 253.52" fill="none" stroke="#FF0000" stroke-width="1.1" stroke-opacity="0.62"/><path d="M315.24 427.2C327.73 371.84 340.22 316.48 352.71 289.09C365.2 261.7 377.69 262.28 390.18 262.88C402.67 263.48 415.16 264.11 427.65 264.13C440.14 264.14 452.63 263.55 465.12 263.09C477.61 262.63 490.1 262.3 502.59 260.38C515.08 258.47 527.57 254.95 540.06 251.44" fill="none" stroke="#0000FF" stroke-width="1.1" stroke-opacity="0.62"/><path d="M315.24 427.2C327.73 372.36 340.22 317.53 352.71 293.66C365.2 269.8 377.69 276.92 390.18 280.14C402.67 283.37 415.16 282.71 427.65 280.14C440.14 277.58 452.63 273.11 465.12 272.45C477.61 271.79 490.1 274.93 502.59 276.61C515.08 278.28 527.57 278.49 540.06 278.69" fill="none" stroke="#008000" stroke-width="1.1" stroke-opacity="0.62"/><path d="M315.24 427.2C327.73 369.01 340.22 310.81 352.71 286.18C365.2 261.54 377.69 270.46 390.18 274.32C402.67 278.18 415.16 276.98 427.65 276.19C440.14 275.41 452.63 275.05 465.12 274.32C477.61 273.59 490.1 272.51 502.59 271.62C515.08 270.72 527.57 270.03 540.06 269.33" fill="none" stroke="#8000FF" stroke-width="1.1" stroke-opacity="0.62"/><path d="M315.24 427.2C327.73 369.21 340.22 311.21 352.71 289.09C365.2 266.97 377.69 280.72 390.18 285.55C402.67 290.39 415.16 286.31 427.65 284.3C440.14 282.3 452.63 282.36 465.12 282.02C477.61 281.68 490.1 280.94 502.59 279.73C515.08 278.52 527.57 276.83 540.06 275.15" fill="none" stroke="#808080" stroke-width="1.1" stroke-opacity="0.62"/><path d="M315.24 427.2C327.73 388.27 340.22 349.34 352.71 328.61C365.2 307.88 377.69 305.36 390.18 307.6C402.67 309.84 415.16 316.84 427.65 318.21C440.14 319.57 452.63 315.3 465.12 314.67C477.61 314.05 490.1 317.08 502.59 318C515.08 318.92 527.57 317.73 540.06 316.54" fill="none" stroke="#00FFFF" stroke-width="1.1" stroke-opacity="0.62"/><path d="M315.24 427.2C327.73 383.29 340.22 339.37 352.71 322.16C365.2 304.95 377.69 314.43 390.18 316.96C402.67 319.49 415.16 315.06 427.65 311.76C440.14 308.46 452.63 306.27 465.12 306.56C477.61 306.85 490.1 309.61 502.59 310.72C515.08 311.83 527.57 311.27 540.06 310.72" fill="none" stroke="#804040" stroke-width="1.1" stroke-opacity="0.62"/><path d="M315.24 427.2C327.73 385.03 340.22 342.86 352.71 325.9C365.2 308.95 377.69 317.22 390.18 319.25C402.67 321.28 415.16 317.08 427.65 315.09C440.14 313.1 452.63 313.32 465.12 312.38C477.61 311.45 490.1 309.35 502.59 307.6C515.08 305.85 527.57 304.44 540.06 303.02" fill="none" stroke="#808000" stroke-width="1.1" stroke-opacity="0.62"/><path d="M315.24 427.2C327.73 383.48 340.22 339.75 352.71 322.16C365.2 304.57 377.69 313.11 390.18 315.71C402.67 318.31 415.16 314.98 427.65 311.76C440.14 308.54 452.63 305.45 465.12 306.56C477.61 307.67 490.1 313 502.59 314.67C515.08 316.34 527.57 314.36 540.06 312.38" fill="none" stroke="#FF8000" stroke-width="1.1" stroke-opacity="0.62"/><path d="M315.24 427.2C327.73 388.11 340.22 349.02 352.71 333.18C365.2 317.35 377.69 324.76 390.18 327.98C402.67 331.21 415.16 330.25 427.65 327.36C440.14 324.47 452.63 319.64 465.12 318.83C477.61 318.03 490.1 321.25 502.59 321.54C515.08 321.83 527.57 319.18 540.06 316.54" fill="none" stroke="#FF80FF" stroke-width="1.1" stroke-opacity="0.62"/><path d="M315.24 427.2C327.73 386.04 340.22 344.88 352.71 327.36C365.2 309.84 377.69 315.97 390.18 318C402.67 320.03 415.16 317.95 427.65 316.54C440.14 315.14 452.63 314.4 465.12 313.22C477.61 312.03 490.1 310.41 502.59 308.64C515.08 306.87 527.57 304.95 540.06 303.02" fill="none" stroke="#66CC00" stroke-width="1.1" stroke-opacity="0.62"/><path d="M352.71 337.55V350.03M350.71 337.55h4M350.71 350.03h4" stroke="#4C4C4C" stroke-width="0.7" fill="none"/><path d="M390.18 254.14V291.58M388.18 254.14h4M388.18 291.58h4" stroke="#FF4C4C" stroke-width="0.7" fill="none"/><path d="M390.18 322.78V333.18M388.18 322.78h4M388.18 333.18h4" stroke="#FFA6FF" stroke-width="0.7" fill="none"/><path d="M465.12 313.63V324.03M463.12 313.63h4M463.12 324.03h4" stroke="#FFA6FF" stroke-width="0.7" fill="none"/><circle cx="315.24" cy="427.2" r="2.5" fill="url(#g225)"/><circle cx="352.71" cy="343.79" r="2.5" fill="url(#g225)"/><circle cx="390.18" cy="297.82" r="2.5" fill="url(#g225)"/><circle cx="427.65" cy="287.22" r="2.5" fill="url(#g225)"/><circle cx="465.12" cy="270.99" r="2.5" fill="url(#g225)"/><circle cx="502.59" cy="265.17" r="2.5" fill="url(#g225)"/><circle cx="540.06" cy="253.52" r="2.5" fill="url(#g225)"/><circle cx="315.24" cy="427.2" r="2.5" fill="url(#g240)"/><circle cx="352.71" cy="309.47" r="2.5" fill="url(#g240)"/><circle cx="390.18" cy="272.86" r="2.5" fill="url(#g240)"/><circle cx="427.65" cy="272.86" r="2.5" fill="url(#g240)"/><circle cx="465.12" cy="269.33" r="2.5" fill="url(#g240)"/><circle cx="502.59" cy="257.68" r="2.5" fill="url(#g240)"/><circle cx="540.06" cy="253.52" r="2.5" fill="url(#g240)"/><circle cx="315.24" cy="427.2" r="2.5" fill="url(#g255)"/><circle cx="352.71" cy="289.09" r="2.5" fill="url(#g255)"/><circle cx="390.18" cy="262.88" r="2.5" fill="url(#g255)"/><circle cx="427.65" cy="264.13" r="2.5" fill="url(#g255)"/><circle cx="465.12" cy="263.09" r="2.5" fill="url(#g255)"/><circle cx="502.59" cy="260.38" r="2.5" fill="url(#g255)"/><circle cx="540.06" cy="251.44" r="2.5" fill="url(#g255)"/><circle cx="315.24" cy="427.2" r="2.5" fill="url(#g270)"/><circle cx="352.71" cy="293.66" r="2.5" fill="url(#g270)"/><circle cx="390.18" cy="280.14" r="2.5" fill="url(#g270)"/><circle cx="427.65" cy="280.14" r="2.5" fill="url(#g270)"/><circle cx="465.12" cy="272.45" r="2.5" fill="url(#g270)"/><circle cx="502.59" cy="276.61" r="2.5" fill="url(#g270)"/><circle cx="540.06" cy="278.69" r="2.5" fill="url(#g270)"/><circle cx="315.24" cy="427.2" r="2.5" fill="url(#g285)"/><circle cx="352.71" cy="286.18" r="2.5" fill="url(#g285)"/><circle cx="390.18" cy="274.32" r="2.5" fill="url(#g285)"/><circle cx="427.65" cy="276.19" r="2.5" fill="url(#g285)"/><circle cx="465.12" cy="274.32" r="2.5" fill="url(#g285)"/><circle cx="502.59" cy="271.62" r="2.5" fill="url(#g285)"/><circle cx="540.06" cy="269.33" r="2.5" fill="url(#g285)"/><circle cx="315.24" cy="427.2" r="2.5" fill="url(#g300)"/><circle cx="352.71" cy="289.09" r="2.5" fill="url(#g300)"/><circle cx="390.18" cy="285.55" r="2.5" fill="url(#g300)"/><circle cx="427.65" cy="284.3" r="2.5" fill="url(#g300)"/><circle cx="465.12" cy="282.02" r="2.5" fill="url(#g300)"/><circle cx="502.59" cy="279.73" r="2.5" fill="url(#g300)"/><circle cx="540.06" cy="275.15" r="2.5" fill="url(#g300)"/><circle cx="315.24" cy="427.2" r="2.5" fill="url(#g350)"/><circle cx="352.71" cy="328.61" r="2.5" fill="url(#g350)"/><circle cx="390.18" cy="307.6" r="2.5" fill="url(#g350)"/><circle cx="427.65" cy="318.21" r="2.5" fill="url(#g350)"/><circle cx="465.12" cy="314.67" r="2.5" fill="url(#g350)"/><circle cx="502.59" cy="318" r="2.5" fill="url(#g350)"/><circle cx="540.06" cy="316.54" r="2.5" fill="url(#g350)"/><circle cx="315.24" cy="427.2" r="2.5" fill="url(#g400)"/><circle cx="352.71" cy="322.16" r="2.5" fill="url(#g400)"/><circle cx="390.18" cy="316.96" r="2.5" fill="url(#g400)"/><circle cx="427.65" cy="311.76" r="2.5" fill="url(#g400)"/><circle cx="465.12" cy="306.56" r="2.5" fill="url(#g400)"/><circle cx="502.59" cy="310.72" r="2.5" fill="url(#g400)"/><circle cx="540.06" cy="310.72" r="2.5" fill="url(#g400)"/><circle cx="315.24" cy="427.2" r="2.5" fill="url(#g450)"/><circle cx="352.71" cy="325.9" r="2.5" fill="url(#g450)"/><circle cx="390.18" cy="319.25" r="2.5" fill="url(#g450)"/><circle cx="427.65" cy="315.09" r="2.5" fill="url(#g450)"/><circle cx="465.12" cy="312.38" r="2.5" fill="url(#g450)"/><circle cx="502.59" cy="307.6" r="2.5" fill="url(#g450)"/><circle cx="540.06" cy="303.02" r="2.5" fill="url(#g450)"/><circle cx="315.24" cy="427.2" r="2.5" fill="url(#g500)"/><circle cx="352.71" cy="322.16" r="2.5" fill="url(#g500)"/><circle cx="390.18" cy="315.71" r="2.5" fill="url(#g500)"/><circle cx="427.65" cy="311.76" r="2.5" fill="url(#g500)"/><circle cx="465.12" cy="306.56" r="2.5" fill="url(#g500)"/><circle cx="502.59" cy="314.67" r="2.5" fill="url(#g500)"/><circle cx="540.06" cy="312.38" r="2.5" fill="url(#g500)"/><circle cx="315.24" cy="427.2" r="2.5" fill="url(#g550)"/><circle cx="352.71" cy="333.18" r="2.5" fill="url(#g550)"/><circle cx="390.18" cy="327.98" r="2.5" fill="url(#g550)"/><circle cx="427.65" cy="327.36" r="2.5" fill="url(#g550)"/><circle cx="465.12" cy="318.83" r="2.5" fill="url(#g550)"/><circle cx="502.59" cy="321.54" r="2.5" fill="url(#g550)"/><circle cx="540.06" cy="316.54" r="2.5" fill="url(#g550)"/><circle cx="315.24" cy="427.2" r="2.5" fill="url(#g600)"/><circle cx="352.71" cy="327.36" r="2.5" fill="url(#g600)"/><circle cx="390.18" cy="318" r="2.5" fill="url(#g600)"/><circle cx="427.65" cy="316.54" r="2.5" fill="url(#g600)"/><circle cx="465.12" cy="313.22" r="2.5" fill="url(#g600)"/><circle cx="502.59" cy="308.64" r="2.5" fill="url(#g600)"/><circle cx="540.06" cy="303.02" r="2.5" fill="url(#g600)"/></g>
<rect x="309" y="240" width="237.3" height="191.3" fill="none" stroke="#262626" stroke-width="1.3"/>
<path d="M315.24 431.3v3.6M352.71 431.3v3.6M390.18 431.3v3.6M427.65 431.3v3.6M465.12 431.3v3.6M502.59 431.3v3.6M540.06 431.3v3.6M309 427.2h-3.6M309 406.4h-3.6M309 385.6h-3.6M309 364.8h-3.6M309 344h-3.6M309 323.2h-3.6M309 302.4h-3.6M309 281.6h-3.6M309 260.8h-3.6M309 240h-3.6" stroke="#262626" stroke-width="1.1" fill="none"/>
<text x="315.24" y="444.2" font-size="8" text-anchor="middle">0</text>
<text x="352.71" y="444.2" font-size="8" text-anchor="middle">30</text>
<text x="390.18" y="444.2" font-size="8" text-anchor="middle">60</text>
<text x="427.65" y="444.2" font-size="8" text-anchor="middle">90</text>
<text x="465.12" y="444.2" font-size="8" text-anchor="middle">120</text>
<text x="502.59" y="444.2" font-size="8" text-anchor="middle">150</text>
<text x="540.06" y="444.2" font-size="8" text-anchor="middle">180</text>
<text x="302.6" y="430" font-size="8" text-anchor="end">0</text>
<text x="302.6" y="409.2" font-size="8" text-anchor="end">10</text>
<text x="302.6" y="388.4" font-size="8" text-anchor="end">20</text>
<text x="302.6" y="367.6" font-size="8" text-anchor="end">30</text>
<text x="302.6" y="346.8" font-size="8" text-anchor="end">40</text>
<text x="302.6" y="326" font-size="8" text-anchor="end">50</text>
<text x="302.6" y="305.2" font-size="8" text-anchor="end">60</text>
<text x="302.6" y="284.4" font-size="8" text-anchor="end">70</text>
<text x="302.6" y="263.6" font-size="8" text-anchor="end">80</text>
<text x="302.6" y="242.8" font-size="8" text-anchor="end">90</text>
<text x="427.65" y="453.6" font-size="9.8" text-anchor="middle">Time (day)</text>
<text transform="translate(290.9 335.65) rotate(-90)" x="0" y="0" font-size="10" text-anchor="middle">N release rate (%)</text>
<text x="309.3" y="238.2" font-size="10.05">(b-2) Rice straw biochar</text>
<g><path d="M364.8 369.4h18.4" stroke="#000000" stroke-width="0.9" stroke-opacity="0.7"/><circle cx="374" cy="369.4" r="2.5" fill="url(#g225)"/><text x="385.4" y="372.2" font-size="8">225 °C</text><path d="M408.3 369.4h18.4" stroke="#FF0000" stroke-width="0.9" stroke-opacity="0.7"/><circle cx="417.5" cy="369.4" r="2.5" fill="url(#g240)"/><text x="428.9" y="372.2" font-size="8">240 °C</text><path d="M451.8 369.4h18.4" stroke="#0000FF" stroke-width="0.9" stroke-opacity="0.7"/><circle cx="461" cy="369.4" r="2.5" fill="url(#g255)"/><text x="472.4" y="372.2" font-size="8">255 °C</text><path d="M495.3 369.4h18.4" stroke="#008000" stroke-width="0.9" stroke-opacity="0.7"/><circle cx="504.5" cy="369.4" r="2.5" fill="url(#g270)"/><text x="515.9" y="372.2" font-size="8">270 °C</text><path d="M364.8 379.8h18.4" stroke="#8000FF" stroke-width="0.9" stroke-opacity="0.7"/><circle cx="374" cy="379.8" r="2.5" fill="url(#g285)"/><text x="385.4" y="382.6" font-size="8">285 °C</text><path d="M408.3 379.8h18.4" stroke="#808080" stroke-width="0.9" stroke-opacity="0.7"/><circle cx="417.5" cy="379.8" r="2.5" fill="url(#g300)"/><text x="428.9" y="382.6" font-size="8">300 °C</text><path d="M451.8 379.8h18.4" stroke="#00FFFF" stroke-width="0.9" stroke-opacity="0.7"/><circle cx="461" cy="379.8" r="2.5" fill="url(#g350)"/><text x="472.4" y="382.6" font-size="8">350 °C</text><path d="M495.3 379.8h18.4" stroke="#804040" stroke-width="0.9" stroke-opacity="0.7"/><circle cx="504.5" cy="379.8" r="2.5" fill="url(#g400)"/><text x="515.9" y="382.6" font-size="8">400 °C</text><path d="M364.8 390.2h18.4" stroke="#808000" stroke-width="0.9" stroke-opacity="0.7"/><circle cx="374" cy="390.2" r="2.5" fill="url(#g450)"/><text x="385.4" y="393" font-size="8">450 °C</text><path d="M408.3 390.2h18.4" stroke="#FF8000" stroke-width="0.9" stroke-opacity="0.7"/><circle cx="417.5" cy="390.2" r="2.5" fill="url(#g500)"/><text x="428.9" y="393" font-size="8">500 °C</text><path d="M451.8 390.2h18.4" stroke="#FF80FF" stroke-width="0.9" stroke-opacity="0.7"/><circle cx="461" cy="390.2" r="2.5" fill="url(#g550)"/><text x="472.4" y="393" font-size="8">550 °C</text><path d="M495.3 390.2h18.4" stroke="#66CC00" stroke-width="0.9" stroke-opacity="0.7"/><circle cx="504.5" cy="390.2" r="2.5" fill="url(#g600)"/><text x="515.9" y="393" font-size="8">600 °C</text></g>
<g><path d="M35.85 654.5C48.35 640.64 60.85 626.78 73.35 615.94C85.85 605.11 98.35 597.29 110.85 593.08C123.35 588.86 135.85 588.25 148.35 582.44C160.85 576.63 173.35 565.62 185.85 549.47C198.35 533.32 210.85 512.04 223.35 498.68C235.85 485.33 248.35 479.91 260.85 474.49" fill="none" stroke="#000000" stroke-width="1.1" stroke-opacity="0.62"/><path d="M35.85 654.5C48.35 629.68 60.85 604.86 73.35 584.83C85.85 564.81 98.35 549.59 110.85 543.89C123.35 538.18 135.85 542 148.35 541.49C160.85 540.98 173.35 536.14 185.85 535.64C198.35 535.15 210.85 539 223.35 540.69C235.85 542.39 248.35 541.94 260.85 541.49" fill="none" stroke="#FF0000" stroke-width="1.1" stroke-opacity="0.62"/><path d="M35.85 654.5C48.35 645.83 60.85 637.16 73.35 633.76C85.85 630.36 98.35 632.22 110.85 621.79C123.35 611.36 135.85 588.64 148.35 577.65C160.85 566.67 173.35 567.44 185.85 566.75C198.35 566.07 210.85 563.94 223.35 561.97C235.85 560 248.35 558.19 260.85 556.38" fill="none" stroke="#0000FF" stroke-width="1.1" stroke-opacity="0.62"/><path d="M35.85 654.5C48.35 643.58 60.85 632.66 73.35 621.79C85.85 610.93 98.35 600.11 110.85 593.08C123.35 586.04 135.85 582.79 148.35 582.44C160.85 582.1 173.35 584.66 185.85 581.11C198.35 577.56 210.85 567.9 223.35 564.36C235.85 560.82 248.35 563.39 260.85 565.96" fill="none" stroke="#008000" stroke-width="1.1" stroke-opacity="0.62"/><path d="M35.85 654.5C48.35 633.35 60.85 612.2 73.35 600.52C85.85 588.84 98.35 586.64 110.85 584.3C123.35 581.96 135.85 579.49 148.35 577.92C160.85 576.35 173.35 575.68 185.85 574.2C198.35 572.72 210.85 570.43 223.35 569.41C235.85 568.39 248.35 568.64 260.85 568.88" fill="none" stroke="#8000FF" stroke-width="1.1" stroke-opacity="0.62"/><path d="M35.85 654.5C48.35 633.49 60.85 612.48 73.35 603.45C85.85 594.41 98.35 597.36 110.85 595.2C123.35 593.05 135.85 585.79 148.35 581.38C160.85 576.96 173.35 575.39 185.85 574.2C198.35 573 210.85 572.19 223.35 571.27C235.85 570.36 248.35 569.35 260.85 568.35" fill="none" stroke="#808080" stroke-width="1.1" stroke-opacity="0.62"/><path d="M35.85 654.5C48.35 613.76 60.85 573.02 73.35 558.51C85.85 544 98.35 555.71 110.85 557.45C123.35 559.18 135.85 550.94 148.35 543.89C160.85 536.83 173.35 530.97 185.85 529.26C198.35 527.55 210.85 529.99 223.35 530.86C235.85 531.73 248.35 531.03 260.85 530.32" fill="none" stroke="#00FFFF" stroke-width="1.1" stroke-opacity="0.62"/><path d="M35.85 654.5C48.35 620.89 60.85 587.28 73.35 574.2C85.85 561.12 98.35 568.57 110.85 570.21C123.35 571.85 135.85 567.67 148.35 562.23C160.85 556.8 173.35 550.1 185.85 545.22C198.35 540.33 210.85 537.25 223.35 534.58C235.85 531.91 248.35 529.66 260.85 527.4" fill="none" stroke="#804040" stroke-width="1.1" stroke-opacity="0.62"/><path d="M35.85 654.5C48.35 619.97 60.85 585.43 73.35 568.35C85.85 551.27 98.35 551.63 110.85 550.8C123.35 549.96 135.85 547.92 148.35 547.34C160.85 546.76 173.35 547.64 185.85 545.22C198.35 542.79 210.85 537.08 223.35 534.58C235.85 532.08 248.35 532.8 260.85 533.52" fill="none" stroke="#808000" stroke-width="1.1" stroke-opacity="0.62"/><path d="M35.85 654.5C48.35 625.71 60.85 596.92 73.35 585.9C85.85 574.87 98.35 581.61 110.85 580.05C123.35 578.48 135.85 568.62 148.35 563.83C160.85 559.04 173.35 559.33 185.85 558.78C198.35 558.22 210.85 556.83 223.35 555.59C235.85 554.34 248.35 553.23 260.85 552.13" fill="none" stroke="#FF8000" stroke-width="1.1" stroke-opacity="0.62"/><path d="M35.85 654.5C48.35 626.55 60.85 598.59 73.35 587.49C85.85 576.39 98.35 582.15 110.85 583.24C123.35 584.33 135.85 580.75 148.35 579.52C160.85 578.28 173.35 579.38 185.85 578.72C198.35 578.06 210.85 575.64 223.35 574.2C235.85 572.75 248.35 572.28 260.85 571.81" fill="none" stroke="#FF80FF" stroke-width="1.1" stroke-opacity="0.62"/><path d="M35.85 654.5C48.35 627.98 60.85 601.47 73.35 590.68C85.85 579.9 98.35 584.85 110.85 586.7C123.35 588.54 135.85 587.28 148.35 586.7C160.85 586.11 173.35 586.2 185.85 585.63C198.35 585.06 210.85 583.84 223.35 582.44C235.85 581.05 248.35 579.48 260.85 577.92" fill="none" stroke="#66CC00" stroke-width="1.1" stroke-opacity="0.62"/><path d="M73.35 610.63V621.26M71.35 610.63h4M71.35 621.26h4" stroke="#4C4C4C" stroke-width="0.7" fill="none"/><path d="M223.35 495.49V501.87M221.35 495.49h4M221.35 501.87h4" stroke="#4C4C4C" stroke-width="0.7" fill="none"/><path d="M110.85 616.48V627.11M108.85 616.48h4M108.85 627.11h4" stroke="#4C4CFF" stroke-width="0.7" fill="none"/><path d="M260.85 537.5V545.48M258.85 537.5h4M258.85 545.48h4" stroke="#FF4C4C" stroke-width="0.7" fill="none"/><path d="M110.85 591.22V599.19M108.85 591.22h4M108.85 599.19h4" stroke="#A6A6A6" stroke-width="0.7" fill="none"/><circle cx="35.85" cy="654.5" r="2.5" fill="url(#g225)"/><circle cx="73.35" cy="615.94" r="2.5" fill="url(#g225)"/><circle cx="110.85" cy="593.08" r="2.5" fill="url(#g225)"/><circle cx="148.35" cy="582.44" r="2.5" fill="url(#g225)"/><circle cx="185.85" cy="549.47" r="2.5" fill="url(#g225)"/><circle cx="223.35" cy="498.68" r="2.5" fill="url(#g225)"/><circle cx="260.85" cy="474.49" r="2.5" fill="url(#g225)"/><circle cx="35.85" cy="654.5" r="2.5" fill="url(#g240)"/><circle cx="73.35" cy="584.83" r="2.5" fill="url(#g240)"/><circle cx="110.85" cy="543.89" r="2.5" fill="url(#g240)"/><circle cx="148.35" cy="541.49" r="2.5" fill="url(#g240)"/><circle cx="185.85" cy="535.64" r="2.5" fill="url(#g240)"/><circle cx="223.35" cy="540.69" r="2.5" fill="url(#g240)"/><circle cx="260.85" cy="541.49" r="2.5" fill="url(#g240)"/><circle cx="35.85" cy="654.5" r="2.5" fill="url(#g255)"/><circle cx="73.35" cy="633.76" r="2.5" fill="url(#g255)"/><circle cx="110.85" cy="621.79" r="2.5" fill="url(#g255)"/><circle cx="148.35" cy="577.65" r="2.5" fill="url(#g255)"/><circle cx="185.85" cy="566.75" r="2.5" fill="url(#g255)"/><circle cx="223.35" cy="561.97" r="2.5" fill="url(#g255)"/><circle cx="260.85" cy="556.38" r="2.5" fill="url(#g255)"/><circle cx="35.85" cy="654.5" r="2.5" fill="url(#g270)"/><circle cx="73.35" cy="621.79" r="2.5" fill="url(#g270)"/><circle cx="110.85" cy="593.08" r="2.5" fill="url(#g270)"/><circle cx="148.35" cy="582.44" r="2.5" fill="url(#g270)"/><circle cx="185.85" cy="581.11" r="2.5" fill="url(#g270)"/><circle cx="223.35" cy="564.36" r="2.5" fill="url(#g270)"/><circle cx="260.85" cy="565.96" r="2.5" fill="url(#g270)"/><circle cx="35.85" cy="654.5" r="2.5" fill="url(#g285)"/><circle cx="73.35" cy="600.52" r="2.5" fill="url(#g285)"/><circle cx="110.85" cy="584.3" r="2.5" fill="url(#g285)"/><circle cx="148.35" cy="577.92" r="2.5" fill="url(#g285)"/><circle cx="185.85" cy="574.2" r="2.5" fill="url(#g285)"/><circle cx="223.35" cy="569.41" r="2.5" fill="url(#g285)"/><circle cx="260.85" cy="568.88" r="2.5" fill="url(#g285)"/><circle cx="35.85" cy="654.5" r="2.5" fill="url(#g300)"/><circle cx="73.35" cy="603.45" r="2.5" fill="url(#g300)"/><circle cx="110.85" cy="595.2" r="2.5" fill="url(#g300)"/><circle cx="148.35" cy="581.38" r="2.5" fill="url(#g300)"/><circle cx="185.85" cy="574.2" r="2.5" fill="url(#g300)"/><circle cx="223.35" cy="571.27" r="2.5" fill="url(#g300)"/><circle cx="260.85" cy="568.35" r="2.5" fill="url(#g300)"/><circle cx="35.85" cy="654.5" r="2.5" fill="url(#g350)"/><circle cx="73.35" cy="558.51" r="2.5" fill="url(#g350)"/><circle cx="110.85" cy="557.45" r="2.5" fill="url(#g350)"/><circle cx="148.35" cy="543.89" r="2.5" fill="url(#g350)"/><circle cx="185.85" cy="529.26" r="2.5" fill="url(#g350)"/><circle cx="223.35" cy="530.86" r="2.5" fill="url(#g350)"/><circle cx="260.85" cy="530.32" r="2.5" fill="url(#g350)"/><circle cx="35.85" cy="654.5" r="2.5" fill="url(#g400)"/><circle cx="73.35" cy="574.2" r="2.5" fill="url(#g400)"/><circle cx="110.85" cy="570.21" r="2.5" fill="url(#g400)"/><circle cx="148.35" cy="562.23" r="2.5" fill="url(#g400)"/><circle cx="185.85" cy="545.22" r="2.5" fill="url(#g400)"/><circle cx="223.35" cy="534.58" r="2.5" fill="url(#g400)"/><circle cx="260.85" cy="527.4" r="2.5" fill="url(#g400)"/><circle cx="35.85" cy="654.5" r="2.5" fill="url(#g450)"/><circle cx="73.35" cy="568.35" r="2.5" fill="url(#g450)"/><circle cx="110.85" cy="550.8" r="2.5" fill="url(#g450)"/><circle cx="148.35" cy="547.34" r="2.5" fill="url(#g450)"/><circle cx="185.85" cy="545.22" r="2.5" fill="url(#g450)"/><circle cx="223.35" cy="534.58" r="2.5" fill="url(#g450)"/><circle cx="260.85" cy="533.52" r="2.5" fill="url(#g450)"/><circle cx="35.85" cy="654.5" r="2.5" fill="url(#g500)"/><circle cx="73.35" cy="585.9" r="2.5" fill="url(#g500)"/><circle cx="110.85" cy="580.05" r="2.5" fill="url(#g500)"/><circle cx="148.35" cy="563.83" r="2.5" fill="url(#g500)"/><circle cx="185.85" cy="558.78" r="2.5" fill="url(#g500)"/><circle cx="223.35" cy="555.59" r="2.5" fill="url(#g500)"/><circle cx="260.85" cy="552.13" r="2.5" fill="url(#g500)"/><circle cx="35.85" cy="654.5" r="2.5" fill="url(#g550)"/><circle cx="73.35" cy="587.49" r="2.5" fill="url(#g550)"/><circle cx="110.85" cy="583.24" r="2.5" fill="url(#g550)"/><circle cx="148.35" cy="579.52" r="2.5" fill="url(#g550)"/><circle cx="185.85" cy="578.72" r="2.5" fill="url(#g550)"/><circle cx="223.35" cy="574.2" r="2.5" fill="url(#g550)"/><circle cx="260.85" cy="571.81" r="2.5" fill="url(#g550)"/><circle cx="35.85" cy="654.5" r="2.5" fill="url(#g600)"/><circle cx="73.35" cy="590.68" r="2.5" fill="url(#g600)"/><circle cx="110.85" cy="586.7" r="2.5" fill="url(#g600)"/><circle cx="148.35" cy="586.7" r="2.5" fill="url(#g600)"/><circle cx="185.85" cy="585.63" r="2.5" fill="url(#g600)"/><circle cx="223.35" cy="582.44" r="2.5" fill="url(#g600)"/><circle cx="260.85" cy="577.92" r="2.5" fill="url(#g600)"/></g>
<rect x="29.6" y="468.4" width="237.5" height="190.8" fill="none" stroke="#262626" stroke-width="1.3"/>
<path d="M35.85 659.2v3.6M73.35 659.2v3.6M110.85 659.2v3.6M148.35 659.2v3.6M185.85 659.2v3.6M223.35 659.2v3.6M260.85 659.2v3.6M29.6 654.5h-3.6M29.6 627.91h-3.6M29.6 601.32h-3.6M29.6 574.73h-3.6M29.6 548.14h-3.6M29.6 521.55h-3.6M29.6 494.96h-3.6M29.6 468.37h-3.6" stroke="#262626" stroke-width="1.1" fill="none"/>
<text x="35.85" y="672.1" font-size="8" text-anchor="middle">0</text>
<text x="73.35" y="672.1" font-size="8" text-anchor="middle">30</text>
<text x="110.85" y="672.1" font-size="8" text-anchor="middle">60</text>
<text x="148.35" y="672.1" font-size="8" text-anchor="middle">90</text>
<text x="185.85" y="672.1" font-size="8" text-anchor="middle">120</text>
<text x="223.35" y="672.1" font-size="8" text-anchor="middle">150</text>
<text x="260.85" y="672.1" font-size="8" text-anchor="middle">180</text>
<text x="23.2" y="657.3" font-size="8" text-anchor="end">0</text>
<text x="23.2" y="630.71" font-size="8" text-anchor="end">10</text>
<text x="23.2" y="604.12" font-size="8" text-anchor="end">20</text>
<text x="23.2" y="577.53" font-size="8" text-anchor="end">30</text>
<text x="23.2" y="550.94" font-size="8" text-anchor="end">40</text>
<text x="23.2" y="524.35" font-size="8" text-anchor="end">50</text>
<text x="23.2" y="497.76" font-size="8" text-anchor="end">60</text>
<text x="23.2" y="471.17" font-size="8" text-anchor="end">70</text>
<text x="148.35" y="681.5" font-size="9.8" text-anchor="middle">Time (day)</text>
<text transform="translate(12.3 563.8) rotate(-90)" x="0" y="0" font-size="10" text-anchor="middle">P release rate (%)</text>
<text x="29.9" y="466.6" font-size="10.05">(c-1) Tobacco straw biochar</text>
<g><path d="M34.2 483.8h18.4" stroke="#000000" stroke-width="0.9" stroke-opacity="0.7"/><circle cx="43.4" cy="483.8" r="2.5" fill="url(#g225)"/><text x="54.8" y="486.6" font-size="8">225 °C</text><path d="M77.8 483.8h18.4" stroke="#FF0000" stroke-width="0.9" stroke-opacity="0.7"/><circle cx="87" cy="483.8" r="2.5" fill="url(#g240)"/><text x="98.4" y="486.6" font-size="8">240 °C</text><path d="M121.4 483.8h18.4" stroke="#0000FF" stroke-width="0.9" stroke-opacity="0.7"/><circle cx="130.6" cy="483.8" r="2.5" fill="url(#g255)"/><text x="142" y="486.6" font-size="8">255 °C</text><path d="M165 483.8h18.4" stroke="#008000" stroke-width="0.9" stroke-opacity="0.7"/><circle cx="174.2" cy="483.8" r="2.5" fill="url(#g270)"/><text x="185.6" y="486.6" font-size="8">270 °C</text><path d="M34.2 493.9h18.4" stroke="#8000FF" stroke-width="0.9" stroke-opacity="0.7"/><circle cx="43.4" cy="493.9" r="2.5" fill="url(#g285)"/><text x="54.8" y="496.7" font-size="8">285 °C</text><path d="M77.8 493.9h18.4" stroke="#808080" stroke-width="0.9" stroke-opacity="0.7"/><circle cx="87" cy="493.9" r="2.5" fill="url(#g300)"/><text x="98.4" y="496.7" font-size="8">300 °C</text><path d="M121.4 493.9h18.4" stroke="#00FFFF" stroke-width="0.9" stroke-opacity="0.7"/><circle cx="130.6" cy="493.9" r="2.5" fill="url(#g350)"/><text x="142" y="496.7" font-size="8">350 °C</text><path d="M165 493.9h18.4" stroke="#804040" stroke-width="0.9" stroke-opacity="0.7"/><circle cx="174.2" cy="493.9" r="2.5" fill="url(#g400)"/><text x="185.6" y="496.7" font-size="8">400 °C</text><path d="M34.2 504h18.4" stroke="#808000" stroke-width="0.9" stroke-opacity="0.7"/><circle cx="43.4" cy="504" r="2.5" fill="url(#g450)"/><text x="54.8" y="506.8" font-size="8">450 °C</text><path d="M77.8 504h18.4" stroke="#FF8000" stroke-width="0.9" stroke-opacity="0.7"/><circle cx="87" cy="504" r="2.5" fill="url(#g500)"/><text x="98.4" y="506.8" font-size="8">500 °C</text><path d="M121.4 504h18.4" stroke="#FF80FF" stroke-width="0.9" stroke-opacity="0.7"/><circle cx="130.6" cy="504" r="2.5" fill="url(#g550)"/><text x="142" y="506.8" font-size="8">550 °C</text><path d="M165 504h18.4" stroke="#66CC00" stroke-width="0.9" stroke-opacity="0.7"/><circle cx="174.2" cy="504" r="2.5" fill="url(#g600)"/><text x="185.6" y="506.8" font-size="8">600 °C</text></g>
<g><path d="M315.25 654.1C327.74 626.92 340.24 599.75 352.73 578.85C365.23 557.95 377.72 543.33 390.22 536.28C402.71 529.24 415.21 529.77 427.7 529.92C440.19 530.07 452.69 529.82 465.18 520.7C477.68 511.59 490.17 493.59 502.67 484.07C515.16 474.54 527.66 473.49 540.15 472.44" fill="none" stroke="#000000" stroke-width="1.1" stroke-opacity="0.62"/><path d="M315.25 654.1C327.74 604.61 340.24 555.12 352.73 529.48C365.23 503.85 377.72 502.07 390.22 501.62C402.71 501.16 415.21 502.03 427.7 501.62C440.19 501.2 452.69 499.5 465.18 497.23C477.68 494.96 490.17 492.13 502.67 489.33C515.16 486.53 527.66 483.76 540.15 480.99" fill="none" stroke="#FF0000" stroke-width="1.1" stroke-opacity="0.62"/><path d="M315.25 654.1C327.74 608.73 340.24 563.37 352.73 540.45C365.23 517.53 377.72 517.06 390.22 515C402.71 512.94 415.21 509.3 427.7 507.1C440.19 504.91 452.69 504.16 465.18 500.08C477.68 496.01 490.17 488.61 502.67 484.07C515.16 479.52 527.66 477.85 540.15 476.17" fill="none" stroke="#0000FF" stroke-width="1.1" stroke-opacity="0.62"/><path d="M315.25 654.1C327.74 599.36 340.24 544.61 352.73 523.12C365.23 501.63 377.72 513.39 390.22 512.15C402.71 510.91 415.21 496.67 427.7 489.11C440.19 481.55 452.69 480.66 465.18 479.9C477.68 479.13 490.17 478.49 502.67 478.58C515.16 478.67 527.66 479.5 540.15 480.34" fill="none" stroke="#008000" stroke-width="1.1" stroke-opacity="0.62"/><path d="M315.25 654.1C327.74 596.24 340.24 538.37 352.73 513.25C365.23 488.12 377.72 495.73 390.22 497.89C402.71 500.04 415.21 496.73 427.7 494.82C440.19 492.9 452.69 492.37 465.18 490.21C477.68 488.05 490.17 484.26 502.67 481.65C515.16 479.04 527.66 477.6 540.15 476.17" fill="none" stroke="#8000FF" stroke-width="1.1" stroke-opacity="0.62"/><path d="M315.25 654.1C327.74 599.55 340.24 545 352.73 521.58C365.23 498.16 377.72 505.87 390.22 506.66C402.71 507.45 415.21 501.32 427.7 498.33C440.19 495.33 452.69 495.48 465.18 493.94C477.68 492.4 490.17 489.17 502.67 487.36C515.16 485.54 527.66 485.13 540.15 484.72" fill="none" stroke="#808080" stroke-width="1.1" stroke-opacity="0.62"/><path d="M315.25 654.1C327.74 627.08 340.24 600.05 352.73 586.31C365.23 572.56 377.72 572.1 390.22 566.56C402.71 561.02 415.21 550.41 427.7 544.4C440.19 538.39 452.69 536.97 465.18 530.58C477.68 524.19 490.17 512.83 502.67 506.44C515.16 500.06 527.66 498.64 540.15 497.23" fill="none" stroke="#00FFFF" stroke-width="1.1" stroke-opacity="0.62"/><path d="M315.25 654.1C327.74 612.78 340.24 571.46 352.73 555.37C365.23 539.28 377.72 548.4 390.22 550.32C402.71 552.24 415.21 546.95 427.7 542.21C440.19 537.46 452.69 533.26 465.18 530.58C477.68 527.9 490.17 526.74 502.67 524.87C515.16 523.01 527.66 520.43 540.15 517.85" fill="none" stroke="#804040" stroke-width="1.1" stroke-opacity="0.62"/><path d="M315.25 654.1C327.74 615.33 340.24 576.56 352.73 555.37C365.23 534.18 377.72 530.55 390.22 528.6C402.71 526.65 415.21 526.37 427.7 526.19C440.19 526.01 452.69 525.92 465.18 525.75C477.68 525.58 490.17 525.33 502.67 524.87C515.16 524.42 527.66 523.77 540.15 523.12" fill="none" stroke="#808000" stroke-width="1.1" stroke-opacity="0.62"/><path d="M315.25 654.1C327.74 621.27 340.24 588.44 352.73 573.36C365.23 558.28 377.72 560.96 390.22 558.66C402.71 556.36 415.21 549.09 427.7 546.59C440.19 544.1 452.69 546.38 465.18 545.94C477.68 545.49 490.17 542.33 502.67 540.45C515.16 538.57 527.66 537.98 540.15 537.38" fill="none" stroke="#FF8000" stroke-width="1.1" stroke-opacity="0.62"/><path d="M315.25 654.1C327.74 617.72 340.24 581.34 352.73 566.56C365.23 551.78 377.72 558.6 390.22 561.07C402.71 563.55 415.21 561.67 427.7 560.2C440.19 558.73 452.69 557.67 465.18 557.13C477.68 556.58 490.17 556.56 502.67 556.69C515.16 556.81 527.66 557.08 540.15 557.34" fill="none" stroke="#FF80FF" stroke-width="1.1" stroke-opacity="0.62"/><path d="M315.25 654.1C327.74 630.42 340.24 606.75 352.73 594.86C365.23 582.98 377.72 582.88 390.22 581.26C402.71 579.64 415.21 576.48 427.7 575.55C440.19 574.63 452.69 575.92 465.18 575.99C477.68 576.07 490.17 574.92 502.67 574.02C515.16 573.12 527.66 572.47 540.15 571.83" fill="none" stroke="#66CC00" stroke-width="1.1" stroke-opacity="0.62"/><path d="M427.7 526.63V533.21M425.7 526.63h4M425.7 533.21h4" stroke="#4C4C4C" stroke-width="0.7" fill="none"/><circle cx="315.25" cy="654.1" r="2.5" fill="url(#g225)"/><circle cx="352.73" cy="578.85" r="2.5" fill="url(#g225)"/><circle cx="390.22" cy="536.28" r="2.5" fill="url(#g225)"/><circle cx="427.7" cy="529.92" r="2.5" fill="url(#g225)"/><circle cx="465.18" cy="520.7" r="2.5" fill="url(#g225)"/><circle cx="502.67" cy="484.07" r="2.5" fill="url(#g225)"/><circle cx="540.15" cy="472.44" r="2.5" fill="url(#g225)"/><circle cx="315.25" cy="654.1" r="2.5" fill="url(#g240)"/><circle cx="352.73" cy="529.48" r="2.5" fill="url(#g240)"/><circle cx="390.22" cy="501.62" r="2.5" fill="url(#g240)"/><circle cx="427.7" cy="501.62" r="2.5" fill="url(#g240)"/><circle cx="465.18" cy="497.23" r="2.5" fill="url(#g240)"/><circle cx="502.67" cy="489.33" r="2.5" fill="url(#g240)"/><circle cx="540.15" cy="480.99" r="2.5" fill="url(#g240)"/><circle cx="315.25" cy="654.1" r="2.5" fill="url(#g255)"/><circle cx="352.73" cy="540.45" r="2.5" fill="url(#g255)"/><circle cx="390.22" cy="515" r="2.5" fill="url(#g255)"/><circle cx="427.7" cy="507.1" r="2.5" fill="url(#g255)"/><circle cx="465.18" cy="500.08" r="2.5" fill="url(#g255)"/><circle cx="502.67" cy="484.07" r="2.5" fill="url(#g255)"/><circle cx="540.15" cy="476.17" r="2.5" fill="url(#g255)"/><circle cx="315.25" cy="654.1" r="2.5" fill="url(#g270)"/><circle cx="352.73" cy="523.12" r="2.5" fill="url(#g270)"/><circle cx="390.22" cy="512.15" r="2.5" fill="url(#g270)"/><circle cx="427.7" cy="489.11" r="2.5" fill="url(#g270)"/><circle cx="465.18" cy="479.9" r="2.5" fill="url(#g270)"/><circle cx="502.67" cy="478.58" r="2.5" fill="url(#g270)"/><circle cx="540.15" cy="480.34" r="2.5" fill="url(#g270)"/><circle cx="315.25" cy="654.1" r="2.5" fill="url(#g285)"/><circle cx="352.73" cy="513.25" r="2.5" fill="url(#g285)"/><circle cx="390.22" cy="497.89" r="2.5" fill="url(#g285)"/><circle cx="427.7" cy="494.82" r="2.5" fill="url(#g285)"/><circle cx="465.18" cy="490.21" r="2.5" fill="url(#g285)"/><circle cx="502.67" cy="481.65" r="2.5" fill="url(#g285)"/><circle cx="540.15" cy="476.17" r="2.5" fill="url(#g285)"/><circle cx="315.25" cy="654.1" r="2.5" fill="url(#g300)"/><circle cx="352.73" cy="521.58" r="2.5" fill="url(#g300)"/><circle cx="390.22" cy="506.66" r="2.5" fill="url(#g300)"/><circle cx="427.7" cy="498.33" r="2.5" fill="url(#g300)"/><circle cx="465.18" cy="493.94" r="2.5" fill="url(#g300)"/><circle cx="502.67" cy="487.36" r="2.5" fill="url(#g300)"/><circle cx="540.15" cy="484.72" r="2.5" fill="url(#g300)"/><circle cx="315.25" cy="654.1" r="2.5" fill="url(#g350)"/><circle cx="352.73" cy="586.31" r="2.5" fill="url(#g350)"/><circle cx="390.22" cy="566.56" r="2.5" fill="url(#g350)"/><circle cx="427.7" cy="544.4" r="2.5" fill="url(#g350)"/><circle cx="465.18" cy="530.58" r="2.5" fill="url(#g350)"/><circle cx="502.67" cy="506.44" r="2.5" fill="url(#g350)"/><circle cx="540.15" cy="497.23" r="2.5" fill="url(#g350)"/><circle cx="315.25" cy="654.1" r="2.5" fill="url(#g400)"/><circle cx="352.73" cy="555.37" r="2.5" fill="url(#g400)"/><circle cx="390.22" cy="550.32" r="2.5" fill="url(#g400)"/><circle cx="427.7" cy="542.21" r="2.5" fill="url(#g400)"/><circle cx="465.18" cy="530.58" r="2.5" fill="url(#g400)"/><circle cx="502.67" cy="524.87" r="2.5" fill="url(#g400)"/><circle cx="540.15" cy="517.85" r="2.5" fill="url(#g400)"/><circle cx="315.25" cy="654.1" r="2.5" fill="url(#g450)"/><circle cx="352.73" cy="555.37" r="2.5" fill="url(#g450)"/><circle cx="390.22" cy="528.6" r="2.5" fill="url(#g450)"/><circle cx="427.7" cy="526.19" r="2.5" fill="url(#g450)"/><circle cx="465.18" cy="525.75" r="2.5" fill="url(#g450)"/><circle cx="502.67" cy="524.87" r="2.5" fill="url(#g450)"/><circle cx="540.15" cy="523.12" r="2.5" fill="url(#g450)"/><circle cx="315.25" cy="654.1" r="2.5" fill="url(#g500)"/><circle cx="352.73" cy="573.36" r="2.5" fill="url(#g500)"/><circle cx="390.22" cy="558.66" r="2.5" fill="url(#g500)"/><circle cx="427.7" cy="546.59" r="2.5" fill="url(#g500)"/><circle cx="465.18" cy="545.94" r="2.5" fill="url(#g500)"/><circle cx="502.67" cy="540.45" r="2.5" fill="url(#g500)"/><circle cx="540.15" cy="537.38" r="2.5" fill="url(#g500)"/><circle cx="315.25" cy="654.1" r="2.5" fill="url(#g550)"/><circle cx="352.73" cy="566.56" r="2.5" fill="url(#g550)"/><circle cx="390.22" cy="561.07" r="2.5" fill="url(#g550)"/><circle cx="427.7" cy="560.2" r="2.5" fill="url(#g550)"/><circle cx="465.18" cy="557.13" r="2.5" fill="url(#g550)"/><circle cx="502.67" cy="556.69" r="2.5" fill="url(#g550)"/><circle cx="540.15" cy="557.34" r="2.5" fill="url(#g550)"/><circle cx="315.25" cy="654.1" r="2.5" fill="url(#g600)"/><circle cx="352.73" cy="594.86" r="2.5" fill="url(#g600)"/><circle cx="390.22" cy="581.26" r="2.5" fill="url(#g600)"/><circle cx="427.7" cy="575.55" r="2.5" fill="url(#g600)"/><circle cx="465.18" cy="575.99" r="2.5" fill="url(#g600)"/><circle cx="502.67" cy="574.02" r="2.5" fill="url(#g600)"/><circle cx="540.15" cy="571.83" r="2.5" fill="url(#g600)"/></g>
<rect x="309" y="467.7" width="237.4" height="190.8" fill="none" stroke="#262626" stroke-width="1.3"/>
<path d="M315.25 658.5v3.6M352.73 658.5v3.6M390.22 658.5v3.6M427.7 658.5v3.6M465.18 658.5v3.6M502.67 658.5v3.6M540.15 658.5v3.6M309 654.1h-3.6M309 621.19h-3.6M309 588.28h-3.6M309 555.37h-3.6M309 522.46h-3.6M309 489.55h-3.6" stroke="#262626" stroke-width="1.1" fill="none"/>
<text x="315.25" y="671.4" font-size="8" text-anchor="middle">0</text>
<text x="352.73" y="671.4" font-size="8" text-anchor="middle">30</text>
<text x="390.22" y="671.4" font-size="8" text-anchor="middle">60</text>
<text x="427.7" y="671.4" font-size="8" text-anchor="middle">90</text>
<text x="465.18" y="671.4" font-size="8" text-anchor="middle">120</text>
<text x="502.67" y="671.4" font-size="8" text-anchor="middle">150</text>
<text x="540.15" y="671.4" font-size="8" text-anchor="middle">180</text>
<text x="302.6" y="656.9" font-size="8" text-anchor="end">0</text>
<text x="302.6" y="623.99" font-size="8" text-anchor="end">15</text>
<text x="302.6" y="591.08" font-size="8" text-anchor="end">30</text>
<text x="302.6" y="558.17" font-size="8" text-anchor="end">45</text>
<text x="302.6" y="525.26" font-size="8" text-anchor="end">60</text>
<text x="302.6" y="492.35" font-size="8" text-anchor="end">75</text>
<text x="427.7" y="680.8" font-size="9.8" text-anchor="middle">Time (day)</text>
<text transform="translate(290.9 563.1) rotate(-90)" x="0" y="0" font-size="10" text-anchor="middle">P release rate (%)</text>
<text x="309.3" y="465.9" font-size="10.05">(c-2) Rice straw biochar</text>
<g><path d="M359.2 604.6h18.4" stroke="#000000" stroke-width="0.9" stroke-opacity="0.7"/><circle cx="368.4" cy="604.6" r="2.5" fill="url(#g225)"/><text x="379.8" y="607.4" font-size="8">225 °C</text><path d="M402.5 604.6h18.4" stroke="#FF0000" stroke-width="0.9" stroke-opacity="0.7"/><circle cx="411.7" cy="604.6" r="2.5" fill="url(#g240)"/><text x="423.1" y="607.4" font-size="8">240 °C</text><path d="M445.8 604.6h18.4" stroke="#0000FF" stroke-width="0.9" stroke-opacity="0.7"/><circle cx="455" cy="604.6" r="2.5" fill="url(#g255)"/><text x="466.4" y="607.4" font-size="8">255 °C</text><path d="M489.1 604.6h18.4" stroke="#008000" stroke-width="0.9" stroke-opacity="0.7"/><circle cx="498.3" cy="604.6" r="2.5" fill="url(#g270)"/><text x="509.7" y="607.4" font-size="8">270 °C</text><path d="M359.2 614.8h18.4" stroke="#8000FF" stroke-width="0.9" stroke-opacity="0.7"/><circle cx="368.4" cy="614.8" r="2.5" fill="url(#g285)"/><text x="379.8" y="617.6" font-size="8">285 °C</text><path d="M402.5 614.8h18.4" stroke="#808080" stroke-width="0.9" stroke-opacity="0.7"/><circle cx="411.7" cy="614.8" r="2.5" fill="url(#g300)"/><text x="423.1" y="617.6" font-size="8">300 °C</text><path d="M445.8 614.8h18.4" stroke="#00FFFF" stroke-width="0.9" stroke-opacity="0.7"/><circle cx="455" cy="614.8" r="2.5" fill="url(#g350)"/><text x="466.4" y="617.6" font-size="8">350 °C</text><path d="M489.1 614.8h18.4" stroke="#804040" stroke-width="0.9" stroke-opacity="0.7"/><circle cx="498.3" cy="614.8" r="2.5" fill="url(#g400)"/><text x="509.7" y="617.6" font-size="8">400 °C</text><path d="M359.2 625h18.4" stroke="#808000" stroke-width="0.9" stroke-opacity="0.7"/><circle cx="368.4" cy="625" r="2.5" fill="url(#g450)"/><text x="379.8" y="627.8" font-size="8">450 °C</text><path d="M402.5 625h18.4" stroke="#FF8000" stroke-width="0.9" stroke-opacity="0.7"/><circle cx="411.7" cy="625" r="2.5" fill="url(#g500)"/><text x="423.1" y="627.8" font-size="8">500 °C</text><path d="M445.8 625h18.4" stroke="#FF80FF" stroke-width="0.9" stroke-opacity="0.7"/><circle cx="455" cy="625" r="2.5" fill="url(#g550)"/><text x="466.4" y="627.8" font-size="8">550 °C</text><path d="M489.1 625h18.4" stroke="#66CC00" stroke-width="0.9" stroke-opacity="0.7"/><circle cx="498.3" cy="625" r="2.5" fill="url(#g600)"/><text x="509.7" y="627.8" font-size="8">600 °C</text></g>
</svg></body></html>
